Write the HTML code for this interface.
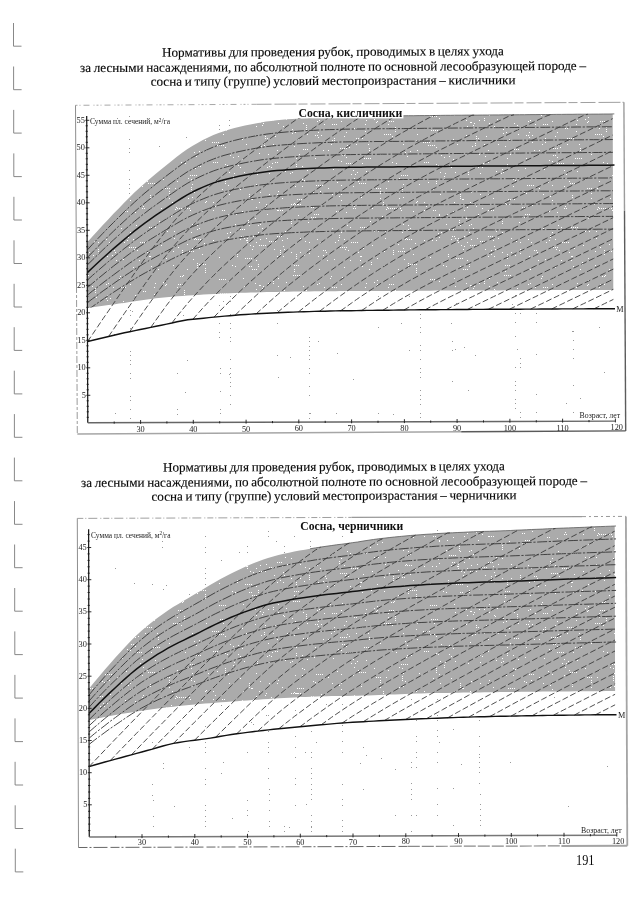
<!DOCTYPE html>
<html lang="ru">
<head>
<meta charset="utf-8">
<title>Нормативы для проведения рубок</title>
<style>
html,body{margin:0;padding:0;background:#fff;}
body{width:640px;height:905px;position:relative;overflow:hidden;font-family:"Liberation Serif",serif;color:#0a0a0a;}
.h{position:absolute;left:33px;width:600px;text-align:center;font-size:13.15px;line-height:14.6px;white-space:nowrap;word-spacing:-0.6px;-webkit-text-stroke:0.15px #0a0a0a;}
.pn{position:absolute;left:575.6px;top:852.3px;font-size:15px;line-height:16px;transform:scaleX(0.82);transform-origin:0 0;}
svg{position:absolute;left:0;top:0;}
</style>
</head>
<body>
<svg width="640" height="905" viewBox="0 0 640 905">
<defs>
<pattern id="speck" width="211" height="163" patternUnits="userSpaceOnUse">
<path d="M175 25h1v1h-1zM151 103h1v1h-1zM142 23h1v1h-1zM110 42h1v1h-1zM167 68h1v1h-1zM135 0h1v1h-1zM137 0h1v1h-1zM139 0h1v1h-1zM141 0h1v1h-1zM6 19h1v1h-1zM191 69h1v1h-1zM183 112h1v1h-1zM192 34h1v1h-1zM206 38h1v1h-1zM137 87h1v1h-1zM72 83h1v1h-1zM192 144h1v1h-1zM93 92h1v1h-1zM23 10h1v1h-1zM192 61h1v1h-1zM92 149h1v1h-1zM94 149h1v1h-1zM96 149h1v1h-1zM67 123h1v1h-1zM19 155h1v1h-1zM33 123h1v1h-1zM73 127h1v1h-1zM83 146h1v1h-1zM67 47h1v1h-1zM69 47h1v1h-1zM71 47h1v1h-1zM107 137h1v1h-1zM110 142h1v1h-1zM53 143h1v1h-1zM53 145h1v1h-1zM4 43h1v1h-1zM54 43h1v1h-1zM205 39h1v1h-1zM140 79h1v1h-1zM142 79h1v1h-1zM144 79h1v1h-1zM146 79h1v1h-1zM166 117h1v1h-1zM44 135h1v1h-1zM197 100h1v1h-1zM197 102h1v1h-1zM197 104h1v1h-1zM29 26h1v1h-1zM190 12h1v1h-1zM192 12h1v1h-1zM194 12h1v1h-1zM196 12h1v1h-1zM187 106h1v1h-1zM93 17h1v1h-1zM49 76h1v1h-1zM182 87h1v1h-1zM182 89h1v1h-1zM182 91h1v1h-1zM76 75h1v1h-1zM85 158h1v1h-1zM56 51h1v1h-1zM121 140h1v1h-1zM123 140h1v1h-1zM199 85h1v1h-1zM143 43h1v1h-1zM63 156h1v1h-1zM35 77h1v1h-1zM161 45h1v1h-1zM142 45h1v1h-1zM144 45h1v1h-1zM34 95h1v1h-1zM36 95h1v1h-1zM38 95h1v1h-1zM40 95h1v1h-1zM146 9h1v1h-1zM85 1h1v1h-1zM85 3h1v1h-1zM48 153h1v1h-1zM161 82h1v1h-1zM58 10h1v1h-1zM27 156h1v1h-1zM100 54h1v1h-1zM102 54h1v1h-1zM104 54h1v1h-1zM143 128h1v1h-1zM145 128h1v1h-1zM176 44h1v1h-1zM184 127h1v1h-1zM184 129h1v1h-1zM184 131h1v1h-1zM144 11h1v1h-1zM40 36h1v1h-1zM107 93h1v1h-1zM110 135h1v1h-1zM58 78h1v1h-1zM60 78h1v1h-1zM62 78h1v1h-1zM64 78h1v1h-1zM205 105h1v1h-1zM205 107h1v1h-1zM205 109h1v1h-1zM135 49h1v1h-1zM33 75h1v1h-1zM95 125h1v1h-1zM95 127h1v1h-1zM95 129h1v1h-1zM94 78h1v1h-1zM76 144h1v1h-1zM154 124h1v1h-1zM8 94h1v1h-1zM150 34h1v1h-1zM44 55h1v1h-1zM177 18h1v1h-1zM178 121h1v1h-1zM180 121h1v1h-1zM182 121h1v1h-1zM103 5h1v1h-1zM157 144h1v1h-1zM174 68h1v1h-1zM205 140h1v1h-1zM91 16h1v1h-1zM133 104h1v1h-1zM172 39h1v1h-1zM172 41h1v1h-1zM130 37h1v1h-1zM46 9h1v1h-1zM46 11h1v1h-1zM160 99h1v1h-1zM160 101h1v1h-1zM128 33h1v1h-1zM11 47h1v1h-1zM13 47h1v1h-1zM171 53h1v1h-1zM126 19h1v1h-1zM45 126h1v1h-1zM8 116h1v1h-1zM10 116h1v1h-1zM12 116h1v1h-1zM14 116h1v1h-1zM187 81h1v1h-1zM128 72h1v1h-1zM128 74h1v1h-1zM177 124h1v1h-1zM81 129h1v1h-1zM178 84h1v1h-1zM136 62h1v1h-1zM127 160h1v1h-1zM66 150h1v1h-1zM169 28h1v1h-1zM169 30h1v1h-1zM173 102h1v1h-1zM41 36h1v1h-1zM98 86h1v1h-1zM98 88h1v1h-1zM98 90h1v1h-1zM131 114h1v1h-1zM14 147h1v1h-1zM37 57h1v1h-1zM37 59h1v1h-1zM37 61h1v1h-1zM11 26h1v1h-1zM80 41h1v1h-1zM82 41h1v1h-1zM84 41h1v1h-1zM86 41h1v1h-1zM74 68h1v1h-1zM104 135h1v1h-1zM106 135h1v1h-1zM2 39h1v1h-1zM72 93h1v1h-1zM180 113h1v1h-1zM182 113h1v1h-1zM121 31h1v1h-1zM112 150h1v1h-1zM64 162h1v1h-1zM66 162h1v1h-1zM145 138h1v1h-1zM147 138h1v1h-1zM149 138h1v1h-1zM151 138h1v1h-1zM163 119h1v1h-1zM169 35h1v1h-1zM173 88h1v1h-1zM87 139h1v1h-1zM117 150h1v1h-1zM66 93h1v1h-1zM54 136h1v1h-1zM145 144h1v1h-1zM56 4h1v1h-1zM67 28h1v1h-1zM31 48h1v1h-1zM149 64h1v1h-1zM151 64h1v1h-1zM153 64h1v1h-1zM155 64h1v1h-1zM133 76h1v1h-1zM89 89h1v1h-1zM21 102h1v1h-1zM165 25h1v1h-1zM167 25h1v1h-1zM169 25h1v1h-1zM150 32h1v1h-1zM10 77h1v1h-1zM38 103h1v1h-1zM40 103h1v1h-1zM151 0h1v1h-1zM6 145h1v1h-1zM8 145h1v1h-1zM10 145h1v1h-1zM12 145h1v1h-1zM66 31h1v1h-1zM169 154h1v1h-1zM84 23h1v1h-1zM92 123h1v1h-1zM45 97h1v1h-1zM24 103h1v1h-1zM42 47h1v1h-1zM129 84h1v1h-1zM131 84h1v1h-1zM133 84h1v1h-1zM135 84h1v1h-1zM51 125h1v1h-1zM206 150h1v1h-1zM117 25h1v1h-1zM106 76h1v1h-1zM87 102h1v1h-1zM187 88h1v1h-1zM189 88h1v1h-1zM191 88h1v1h-1zM193 88h1v1h-1zM50 146h1v1h-1zM17 52h1v1h-1zM89 75h1v1h-1zM58 3h1v1h-1zM197 62h1v1h-1zM108 120h1v1h-1zM100 44h1v1h-1zM102 44h1v1h-1zM55 75h1v1h-1zM96 134h1v1h-1zM166 55h1v1h-1zM104 30h1v1h-1zM55 41h1v1h-1zM26 91h1v1h-1zM26 93h1v1h-1zM149 97h1v1h-1zM177 45h1v1h-1zM179 45h1v1h-1zM181 45h1v1h-1zM183 45h1v1h-1zM17 118h1v1h-1zM47 69h1v1h-1zM51 65h1v1h-1zM32 115h1v1h-1zM29 76h1v1h-1zM2 47h1v1h-1zM73 86h1v1h-1zM87 52h1v1h-1zM75 119h1v1h-1zM67 115h1v1h-1zM16 70h1v1h-1zM16 2h1v1h-1zM194 29h1v1h-1zM191 24h1v1h-1zM191 26h1v1h-1zM191 28h1v1h-1zM107 132h1v1h-1zM155 120h1v1h-1zM192 85h1v1h-1zM195 5h1v1h-1zM17 74h1v1h-1zM194 76h1v1h-1zM196 76h1v1h-1zM198 76h1v1h-1zM200 76h1v1h-1zM199 101h1v1h-1zM201 101h1v1h-1zM203 101h1v1h-1zM205 101h1v1h-1zM188 35h1v1h-1zM25 51h1v1h-1zM124 79h1v1h-1zM155 8h1v1h-1zM2 77h1v1h-1zM139 64h1v1h-1zM120 113h1v1h-1zM31 139h1v1h-1zM33 9h1v1h-1zM66 73h1v1h-1zM68 73h1v1h-1zM70 73h1v1h-1zM121 65h1v1h-1zM81 133h1v1h-1zM166 95h1v1h-1zM120 144h1v1h-1zM113 124h1v1h-1zM130 22h1v1h-1zM103 51h1v1h-1zM105 51h1v1h-1zM107 51h1v1h-1zM54 138h1v1h-1zM56 138h1v1h-1zM119 115h1v1h-1zM147 18h1v1h-1zM185 0h1v1h-1zM45 21h1v1h-1zM188 15h1v1h-1zM147 89h1v1h-1zM32 39h1v1h-1zM165 122h1v1h-1zM27 2h1v1h-1zM30 73h1v1h-1zM32 73h1v1h-1zM45 44h1v1h-1zM80 69h1v1h-1zM193 96h1v1h-1zM127 77h1v1h-1zM139 97h1v1h-1zM88 154h1v1h-1zM166 121h1v1h-1zM82 112h1v1h-1zM84 112h1v1h-1zM86 112h1v1h-1zM88 112h1v1h-1zM202 48h1v1h-1zM31 159h1v1h-1zM173 134h1v1h-1zM175 134h1v1h-1zM177 134h1v1h-1zM179 134h1v1h-1zM136 145h1v1h-1zM42 73h1v1h-1zM159 58h1v1h-1zM177 128h1v1h-1zM96 7h1v1h-1zM158 148h1v1h-1zM158 150h1v1h-1zM2 162h1v1h-1zM4 162h1v1h-1zM6 162h1v1h-1zM109 28h1v1h-1zM190 47h1v1h-1zM39 82h1v1h-1zM14 16h1v1h-1zM14 18h1v1h-1zM14 20h1v1h-1zM71 35h1v1h-1zM149 93h1v1h-1zM185 45h1v1h-1zM187 45h1v1h-1zM189 45h1v1h-1zM129 148h1v1h-1zM131 148h1v1h-1zM133 148h1v1h-1zM135 148h1v1h-1zM106 121h1v1h-1zM19 69h1v1h-1zM38 31h1v1h-1zM38 33h1v1h-1zM38 35h1v1h-1zM192 21h1v1h-1zM1 142h1v1h-1zM3 142h1v1h-1zM5 142h1v1h-1zM7 142h1v1h-1zM122 6h1v1h-1zM57 154h1v1h-1zM142 7h1v1h-1zM158 106h1v1h-1zM44 120h1v1h-1zM41 106h1v1h-1zM43 106h1v1h-1zM45 106h1v1h-1zM79 10h1v1h-1zM127 48h1v1h-1zM49 29h1v1h-1zM112 87h1v1h-1zM114 87h1v1h-1zM62 144h1v1h-1zM42 83h1v1h-1zM49 61h1v1h-1zM181 162h1v1h-1zM163 68h1v1h-1zM17 51h1v1h-1zM196 3h1v1h-1zM198 3h1v1h-1zM200 3h1v1h-1zM134 86h1v1h-1zM199 65h1v1h-1zM83 102h1v1h-1zM85 102h1v1h-1zM36 75h1v1h-1zM36 77h1v1h-1zM36 79h1v1h-1zM98 79h1v1h-1zM154 131h1v1h-1zM130 161h1v1h-1zM63 86h1v1h-1zM41 86h1v1h-1zM24 61h1v1h-1zM58 31h1v1h-1zM86 36h1v1h-1zM88 36h1v1h-1zM90 36h1v1h-1zM92 36h1v1h-1zM196 156h1v1h-1zM208 21h1v1h-1zM29 4h1v1h-1zM60 45h1v1h-1zM148 20h1v1h-1zM150 20h1v1h-1zM152 20h1v1h-1zM154 20h1v1h-1zM66 47h1v1h-1zM22 13h1v1h-1zM22 15h1v1h-1zM80 6h1v1h-1zM38 62h1v1h-1zM47 103h1v1h-1zM195 75h1v1h-1zM191 16h1v1h-1zM74 8h1v1h-1zM130 31h1v1h-1zM72 126h1v1h-1zM152 85h1v1h-1zM52 123h1v1h-1zM138 147h1v1h-1zM91 23h1v1h-1zM105 22h1v1h-1zM107 22h1v1h-1zM109 22h1v1h-1zM111 22h1v1h-1zM85 91h1v1h-1zM85 93h1v1h-1zM85 95h1v1h-1zM62 118h1v1h-1zM62 120h1v1h-1zM18 31h1v1h-1zM108 106h1v1h-1zM143 15h1v1h-1zM35 144h1v1h-1zM140 11h1v1h-1zM163 16h1v1h-1zM115 89h1v1h-1zM202 91h1v1h-1zM17 22h1v1h-1zM91 3h1v1h-1zM14 77h1v1h-1zM104 158h1v1h-1zM80 89h1v1h-1zM133 136h1v1h-1zM48 39h1v1h-1zM102 29h1v1h-1zM57 120h1v1h-1zM85 41h1v1h-1zM87 41h1v1h-1zM89 41h1v1h-1zM12 134h1v1h-1zM123 138h1v1h-1zM123 142h1v1h-1zM125 48h1v1h-1zM123 96h1v1h-1zM121 124h1v1h-1zM123 124h1v1h-1zM125 124h1v1h-1zM14 1h1v1h-1zM97 59h1v1h-1zM83 106h1v1h-1zM83 108h1v1h-1zM83 40h1v1h-1zM45 79h1v1h-1zM81 9h1v1h-1zM130 121h1v1h-1zM64 136h1v1h-1zM112 92h1v1h-1zM135 132h1v1h-1zM47 62h1v1h-1zM116 97h1v1h-1zM61 0h1v1h-1zM80 56h1v1h-1zM80 58h1v1h-1zM80 60h1v1h-1zM84 132h1v1h-1zM206 134h1v1h-1zM47 101h1v1h-1zM174 75h1v1h-1zM48 122h1v1h-1zM109 79h1v1h-1zM135 157h1v1h-1zM175 46h1v1h-1zM131 155h1v1h-1zM133 155h1v1h-1zM204 80h1v1h-1zM71 77h1v1h-1zM18 9h1v1h-1zM9 130h1v1h-1zM11 130h1v1h-1zM13 130h1v1h-1zM15 130h1v1h-1zM197 66h1v1h-1zM194 152h1v1h-1zM49 122h1v1h-1zM199 151h1v1h-1zM181 136h1v1h-1zM27 66h1v1h-1zM29 66h1v1h-1zM31 66h1v1h-1zM33 66h1v1h-1zM22 157h1v1h-1zM153 158h1v1h-1zM155 158h1v1h-1zM157 158h1v1h-1zM159 158h1v1h-1zM69 87h1v1h-1zM69 89h1v1h-1zM69 91h1v1h-1zM60 4h1v1h-1zM130 69h1v1h-1zM150 93h1v1h-1zM48 82h1v1h-1zM50 82h1v1h-1zM52 82h1v1h-1zM54 82h1v1h-1z" fill="#fff"/>
</pattern>
</defs>
<path d="M13.5 23V46.2H21.5M13.6 66.5V89.7H21.6M13.7 109.9V133.1H21.7M13.8 153.4V176.6H21.8M13.9 196.8V220H21.9M14 240.3V263.5H22M14.1 283.8V307H22.1M14.2 327.2V350.4H22.2M14.3 370.7V393.9H22.3M14.4 414.1V437.3H22.4M14.4 457.6V480.8H22.4M14.5 501.1V524.3H22.5M14.6 544.5V567.7H22.6M14.7 588V611.2H22.7M14.8 631.4V654.6H22.8M14.9 674.9V698.1H22.9M15 718.4V741.6H23M15.1 761.8V785H23.1M15.2 805.3V828.5H23.2M15.3 848.7V871.9H23.3" fill="none" stroke="#7a7a7a" stroke-width="0.9"/>
<path d="M130 418h1v1h-1zM130 409h1v1h-1zM130 400h1v1h-1zM130 396h1v1h-1zM130 378h1v1h-1zM130 373h1v1h-1zM130 364h1v1h-1zM130 360h1v1h-1zM130 355h1v1h-1zM130 351h1v1h-1zM130 328h1v1h-1zM130 315h1v1h-1zM130 310h1v1h-1zM129 193h1v1h-1zM129 188h1v1h-1zM129 184h1v1h-1zM129 179h1v1h-1zM129 170h1v1h-1zM129 152h1v1h-1zM129 148h1v1h-1zM129 139h1v1h-1zM129 116h1v1h-1zM145 328h1v1h-1zM177 414h1v1h-1zM177 409h1v1h-1zM177 373h1v1h-1zM220 413h1v1h-1zM220 409h1v1h-1zM220 391h1v1h-1zM220 373h1v1h-1zM220 368h1v1h-1zM219 337h1v1h-1zM219 332h1v1h-1zM219 323h1v1h-1zM219 305h1v1h-1zM219 129h1v1h-1zM219 125h1v1h-1zM230 404h1v1h-1zM230 395h1v1h-1zM230 386h1v1h-1zM230 382h1v1h-1zM230 377h1v1h-1zM230 373h1v1h-1zM230 368h1v1h-1zM230 359h1v1h-1zM230 341h1v1h-1zM230 337h1v1h-1zM230 328h1v1h-1zM230 323h1v1h-1zM230 314h1v1h-1zM230 301h1v1h-1zM230 296h1v1h-1zM229 125h1v1h-1zM229 120h1v1h-1zM278 377h1v1h-1zM277 355h1v1h-1zM277 323h1v1h-1zM277 310h1v1h-1zM309 418h1v1h-1zM309 413h1v1h-1zM309 395h1v1h-1zM309 386h1v1h-1zM309 373h1v1h-1zM309 368h1v1h-1zM309 359h1v1h-1zM309 355h1v1h-1zM309 350h1v1h-1zM309 346h1v1h-1zM309 341h1v1h-1zM309 337h1v1h-1zM378 413h1v1h-1zM378 327h1v1h-1zM378 296h1v1h-1zM409 350h1v1h-1zM409 296h1v1h-1zM420 417h1v1h-1zM420 413h1v1h-1zM420 404h1v1h-1zM420 399h1v1h-1zM420 395h1v1h-1zM420 390h1v1h-1zM420 377h1v1h-1zM420 372h1v1h-1zM420 368h1v1h-1zM420 359h1v1h-1zM420 350h1v1h-1zM420 345h1v1h-1zM420 332h1v1h-1zM420 327h1v1h-1zM420 318h1v1h-1zM420 314h1v1h-1zM420 309h1v1h-1zM420 300h1v1h-1zM452 381h1v1h-1zM452 350h1v1h-1zM452 341h1v1h-1zM451 323h1v1h-1zM468 390h1v1h-1zM515 408h1v1h-1zM515 403h1v1h-1zM515 399h1v1h-1zM515 390h1v1h-1zM515 385h1v1h-1zM515 381h1v1h-1zM515 367h1v1h-1zM515 336h1v1h-1zM515 322h1v1h-1zM515 313h1v1h-1zM515 309h1v1h-1zM515 295h1v1h-1zM520 417h1v1h-1zM520 412h1v1h-1zM520 367h1v1h-1zM520 363h1v1h-1zM520 358h1v1h-1zM520 313h1v1h-1zM536 412h1v1h-1zM536 394h1v1h-1zM536 354h1v1h-1zM536 322h1v1h-1zM536 313h1v1h-1zM573 412h1v1h-1zM573 385h1v1h-1zM573 358h1v1h-1zM573 349h1v1h-1zM573 340h1v1h-1zM573 331h1v1h-1zM599 327h1v1h-1zM337 353h1v1h-1zM159 146h1v1h-1zM229 374h1v1h-1zM187 360h1v1h-1zM517 349h1v1h-1zM186 137h1v1h-1zM132 311h1v1h-1zM604 372h1v1h-1zM393 414h1v1h-1zM336 413h1v1h-1zM183 315h1v1h-1zM456 303h1v1h-1zM475 355h1v1h-1zM575 307h1v1h-1zM318 341h1v1h-1zM223 301h1v1h-1zM580 398h1v1h-1zM566 403h1v1h-1zM512 304h1v1h-1zM455 349h1v1h-1zM185 392h1v1h-1zM114 334h1v1h-1zM310 413h1v1h-1zM117 118h1v1h-1zM290 357h1v1h-1zM572 331h1v1h-1zM464 347h1v1h-1zM401 323h1v1h-1zM115 413h1v1h-1zM353 379h1v1h-1z" fill="#9a9a9a"/>
<path d="M75.5 105.3L256.5 104.3" stroke="#a8a8a8" stroke-width="1" stroke-dasharray="2 2 1 3 6 4 1 2" fill="none"/>
<path d="M256.5 104.3L623.9 102.3" stroke="#a0a0a0" stroke-width="1" stroke-dasharray="15 3 22 2 9 3" fill="none"/>
<path d="M75.5 105.3L76.5 286" stroke="#8e8e8e" stroke-width="1" fill="none"/>
<path d="M76.5 286L77.3 433.9" stroke="#9a9a9a" stroke-width="1" stroke-dasharray="7 2 3 2" fill="none"/>
<path d="M623.9 102.3L624.5 210.7" stroke="#9c9c9c" stroke-width="1.4" fill="none"/>
<path d="M624.5 210.7L625.7 430.9" stroke="#5c5c5c" stroke-width="1.4" fill="none"/>
<path d="M77.3 433.9L461.2 431.8" stroke="#a6a6a6" stroke-width="1.5" fill="none"/>
<path d="M461.2 431.8L625.7 430.9" stroke="#5a5a5a" stroke-width="1.4" fill="none"/>
<clipPath id="band1"><path d="M87.1 242.6L92.4 236.6L97.7 230.8L102.9 225L108.2 219.4L113.4 213.8L118.7 208.4L123.9 203L129.2 197.7L134.4 192.6L139.7 187.7L145 183L150.2 178.4L155.5 174L160.7 169.7L166 165.5L171.3 161.3L176.5 157.1L181.8 153.1L187.1 149.3L192.3 145.9L197.6 142.9L202.8 140L208.1 137.4L213.4 135L218.6 133L223.9 131.2L229.2 129.6L234.5 128.1L239.7 126.8L245 125.6L250.3 124.5L255.5 123.4L260.8 122.5L266.1 121.6L271.4 120.9L276.6 120.3L281.9 119.8L287.2 119.3L292.5 118.9L297.7 118.5L303 118.2L308.3 117.9L313.6 117.6L318.8 117.3L324.1 117.1L329.4 116.9L334.7 116.8L339.9 116.6L345.2 116.5L350.5 116.4L355.8 116.3L361 116.2L366.3 116.2L371.6 116.1L376.9 116.1L382.1 116L387.4 116L392.7 115.9L398 115.9L403.2 115.8L408.5 115.7L413.8 115.7L419.1 115.6L424.4 115.6L429.6 115.5L434.9 115.5L440.2 115.4L445.5 115.3L450.7 115.3L456 115.2L461.3 115.2L466.6 115.1L471.8 115.1L477.1 115.1L482.4 115L487.7 115L492.9 114.9L498.2 114.9L503.5 114.8L508.8 114.8L514 114.8L519.3 114.7L524.6 114.7L529.9 114.6L535.1 114.6L540.4 114.5L545.7 114.5L551 114.5L556.2 114.4L561.5 114.4L566.8 114.3L572.1 114.3L577.4 114.2L582.6 114.2L587.9 114.2L593.2 114.1L598.5 114.1L603.7 114L609 114L612.7 113.9L613.3 289.9L609.6 289.9L604.4 290L599.1 290L593.8 290L588.5 290L583.3 290L578 290L572.7 290.1L567.4 290.1L562.2 290.1L556.9 290.1L551.6 290.1L546.3 290.2L541.1 290.2L535.8 290.2L530.5 290.2L525.2 290.2L520 290.3L514.7 290.3L509.4 290.3L504.1 290.3L498.9 290.4L493.6 290.4L488.3 290.4L483 290.4L477.7 290.4L472.5 290.5L467.2 290.5L461.9 290.5L456.6 290.5L451.4 290.6L446.1 290.6L440.8 290.6L435.5 290.6L430.3 290.7L425 290.7L419.7 290.7L414.4 290.7L409.2 290.8L403.9 290.8L398.6 290.8L393.3 290.9L388.1 290.9L382.8 290.9L377.5 290.9L372.2 291L367 291L361.7 291L356.4 291.1L351.1 291.1L345.8 291.1L340.6 291.1L335.3 291.2L330 291.2L324.7 291.2L319.5 291.3L314.2 291.3L308.9 291.4L303.6 291.5L298.4 291.5L293.1 291.6L287.8 291.7L282.5 291.8L277.3 291.9L272 292L266.7 292.1L261.4 292.2L256.2 292.4L250.9 292.5L245.6 292.7L240.3 292.8L235.1 293L229.8 293.2L224.5 293.4L219.2 293.7L214 294L208.7 294.3L203.4 294.6L198.1 294.9L192.9 295.2L187.6 295.6L182.3 295.9L177 296.3L171.8 296.8L166.5 297.2L161.2 297.7L155.9 298.3L150.7 298.9L145.4 299.7L140.1 300.5L134.8 301.3L129.6 302.1L124.3 302.9L119 303.6L113.7 304.4L108.5 305.1L103.2 305.8L97.9 306.5L92.7 307.2L87.4 307.9Z"/></clipPath>
<path d="M87.1 242.6L92.4 236.6L97.7 230.8L102.9 225L108.2 219.4L113.4 213.8L118.7 208.4L123.9 203L129.2 197.7L134.4 192.6L139.7 187.7L145 183L150.2 178.4L155.5 174L160.7 169.7L166 165.5L171.3 161.3L176.5 157.1L181.8 153.1L187.1 149.3L192.3 145.9L197.6 142.9L202.8 140L208.1 137.4L213.4 135L218.6 133L223.9 131.2L229.2 129.6L234.5 128.1L239.7 126.8L245 125.6L250.3 124.5L255.5 123.4L260.8 122.5L266.1 121.6L271.4 120.9L276.6 120.3L281.9 119.8L287.2 119.3L292.5 118.9L297.7 118.5L303 118.2L308.3 117.9L313.6 117.6L318.8 117.3L324.1 117.1L329.4 116.9L334.7 116.8L339.9 116.6L345.2 116.5L350.5 116.4L355.8 116.3L361 116.2L366.3 116.2L371.6 116.1L376.9 116.1L382.1 116L387.4 116L392.7 115.9L398 115.9L403.2 115.8L408.5 115.7L413.8 115.7L419.1 115.6L424.4 115.6L429.6 115.5L434.9 115.5L440.2 115.4L445.5 115.3L450.7 115.3L456 115.2L461.3 115.2L466.6 115.1L471.8 115.1L477.1 115.1L482.4 115L487.7 115L492.9 114.9L498.2 114.9L503.5 114.8L508.8 114.8L514 114.8L519.3 114.7L524.6 114.7L529.9 114.6L535.1 114.6L540.4 114.5L545.7 114.5L551 114.5L556.2 114.4L561.5 114.4L566.8 114.3L572.1 114.3L577.4 114.2L582.6 114.2L587.9 114.2L593.2 114.1L598.5 114.1L603.7 114L609 114L612.7 113.9L613.3 289.9L609.6 289.9L604.4 290L599.1 290L593.8 290L588.5 290L583.3 290L578 290L572.7 290.1L567.4 290.1L562.2 290.1L556.9 290.1L551.6 290.1L546.3 290.2L541.1 290.2L535.8 290.2L530.5 290.2L525.2 290.2L520 290.3L514.7 290.3L509.4 290.3L504.1 290.3L498.9 290.4L493.6 290.4L488.3 290.4L483 290.4L477.7 290.4L472.5 290.5L467.2 290.5L461.9 290.5L456.6 290.5L451.4 290.6L446.1 290.6L440.8 290.6L435.5 290.6L430.3 290.7L425 290.7L419.7 290.7L414.4 290.7L409.2 290.8L403.9 290.8L398.6 290.8L393.3 290.9L388.1 290.9L382.8 290.9L377.5 290.9L372.2 291L367 291L361.7 291L356.4 291.1L351.1 291.1L345.8 291.1L340.6 291.1L335.3 291.2L330 291.2L324.7 291.2L319.5 291.3L314.2 291.3L308.9 291.4L303.6 291.5L298.4 291.5L293.1 291.6L287.8 291.7L282.5 291.8L277.3 291.9L272 292L266.7 292.1L261.4 292.2L256.2 292.4L250.9 292.5L245.6 292.7L240.3 292.8L235.1 293L229.8 293.2L224.5 293.4L219.2 293.7L214 294L208.7 294.3L203.4 294.6L198.1 294.9L192.9 295.2L187.6 295.6L182.3 295.9L177 296.3L171.8 296.8L166.5 297.2L161.2 297.7L155.9 298.3L150.7 298.9L145.4 299.7L140.1 300.5L134.8 301.3L129.6 302.1L124.3 302.9L119 303.6L113.7 304.4L108.5 305.1L103.2 305.8L97.9 306.5L92.7 307.2L87.4 307.9Z" fill="#ababab"/>
<rect x="86.7" y="106.1" width="530.7" height="311" fill="url(#speck)" clip-path="url(#band1)"/>
<path d="M308.3 117.9L313.6 117.6L318.8 117.3L324.1 117.1L329.4 116.9L334.7 116.8L339.9 116.6L345.2 116.5L350.5 116.4L355.8 116.3L361 116.2L366.3 116.2L371.6 116.1L376.9 116.1L382.1 116L387.4 116L392.7 115.9L398 115.9L403.2 115.8L408.5 115.7L413.8 115.7L419.1 115.6L424.4 115.6L429.6 115.5L434.9 115.5L440.2 115.4L445.5 115.3L450.7 115.3L456 115.2L461.3 115.2L466.6 115.1L471.8 115.1L477.1 115.1L482.4 115L487.7 115L492.9 114.9L498.2 114.9L503.5 114.8L508.8 114.8L514 114.8L519.3 114.7L524.6 114.7L529.9 114.6L535.1 114.6L540.4 114.5L545.7 114.5L551 114.5L556.2 114.4L561.5 114.4L566.8 114.3L572.1 114.3L577.4 114.2L582.6 114.2L587.9 114.2L593.2 114.1L598.5 114.1L603.7 114L609 114L614.3 113.9" fill="none" stroke="#5a5a5a" stroke-width="0.8"/>
<path d="M87.4 310.2L92.7 306.4L97.9 302.8L103.2 299.2L108.4 295.6L113.7 292.2L119 288.7L124.2 285.4L129.5 282.1L134.8 278.9L140 275.8L145.3 272.8L150.6 270L155.8 267.2L161.1 264.5L166.4 261.9L171.6 259.2L176.9 256.6L182.2 254.1L187.4 251.7L192.7 249.6L198 247.7L203.2 245.9L208.5 244.3L213.8 242.8L219 241.5L224.3 240.4L229.6 239.4L234.9 238.5L240.1 237.6L245.4 236.9L250.7 236.2L256 235.5L261.2 234.9L266.5 234.3L271.8 233.9L277 233.5L282.3 233.2L287.6 232.9L292.9 232.6L298.1 232.4L303.4 232.2L308.7 231.9L314 231.8L319.3 231.6L324.5 231.5L329.8 231.3L335.1 231.2L340.4 231.1L345.6 231L350.9 231L356.2 230.9L361.5 230.9L366.7 230.8L372 230.8L377.3 230.7L382.6 230.7L387.8 230.7L393.1 230.6L398.4 230.6L403.7 230.5L408.9 230.5L414.2 230.5L419.5 230.4L424.8 230.4L430 230.3L435.3 230.3L440.6 230.2L445.9 230.2L451.1 230.2L456.4 230.1L461.7 230.1L467 230.1L472.3 230L477.5 230L482.8 230L488.1 229.9L493.4 229.9L498.6 229.9L503.9 229.8L509.2 229.8L514.5 229.8L519.7 229.7L525 229.7L530.3 229.7L535.6 229.6L540.8 229.6L546.1 229.6L551.4 229.5L556.7 229.5L561.9 229.5L567.2 229.4L572.5 229.4L577.8 229.4L583 229.3L588.3 229.3L593.6 229.3L598.9 229.2L604.2 229.2L609.4 229.2L614.7 229.1M87.4 302.7L92.6 298.7L97.9 294.8L103.1 290.9L108.4 287.2L113.7 283.5L118.9 279.8L124.2 276.2L129.5 272.7L134.7 269.3L140 266L145.3 262.8L150.5 259.8L155.8 256.8L161.1 254L166.3 251.2L171.6 248.4L176.8 245.6L182.1 242.9L187.4 240.3L192.6 238.1L197.9 236.1L203.2 234.2L208.5 232.4L213.7 230.8L219 229.4L224.3 228.2L229.5 227.2L234.8 226.2L240.1 225.3L245.4 224.5L250.6 223.8L255.9 223L261.2 222.4L266.5 221.8L271.7 221.3L277 220.9L282.3 220.6L287.6 220.3L292.8 220L298.1 219.7L303.4 219.5L308.7 219.3L313.9 219.1L319.2 218.9L324.5 218.8L329.8 218.6L335 218.5L340.3 218.4L345.6 218.3L350.9 218.2L356.1 218.2L361.4 218.1L366.7 218.1L372 218L377.2 218L382.5 218L387.8 217.9L393.1 217.9L398.3 217.8L403.6 217.8L408.9 217.8L414.2 217.7L419.4 217.7L424.7 217.6L430 217.6L435.3 217.5L440.5 217.5L445.8 217.4L451.1 217.4L456.4 217.4L461.7 217.3L466.9 217.3L472.2 217.3L477.5 217.2L482.8 217.2L488 217.2L493.3 217.1L498.6 217.1L503.9 217.1L509.1 217L514.4 217L519.7 216.9L525 216.9L530.2 216.9L535.5 216.8L540.8 216.8L546.1 216.8L551.3 216.7L556.6 216.7L561.9 216.7L567.2 216.6L572.4 216.6L577.7 216.6L583 216.5L588.3 216.5L593.6 216.5L598.8 216.4L604.1 216.4L609.4 216.4L614.7 216.3M87.3 295.2L92.6 290.9L97.9 286.8L103.1 282.7L108.4 278.7L113.6 274.8L118.9 270.9L124.2 267.1L129.4 263.3L134.7 259.7L140 256.2L145.2 252.9L150.5 249.6L155.7 246.5L161 243.4L166.3 240.5L171.5 237.5L176.8 234.5L182.1 231.6L187.3 229L192.6 226.6L197.9 224.4L203.1 222.4L208.4 220.5L213.7 218.8L219 217.4L224.2 216.1L229.5 215L234.8 213.9L240 213L245.3 212.1L250.6 211.3L255.9 210.6L261.1 209.9L266.4 209.3L271.7 208.8L277 208.4L282.2 208L287.5 207.6L292.8 207.3L298.1 207.1L303.3 206.8L308.6 206.6L313.9 206.4L319.2 206.2L324.4 206.1L329.7 205.9L335 205.8L340.3 205.7L345.5 205.6L350.8 205.5L356.1 205.4L361.4 205.4L366.6 205.3L371.9 205.3L377.2 205.2L382.5 205.2L387.7 205.2L393 205.1L398.3 205.1L403.6 205L408.8 205L414.1 205L419.4 204.9L424.7 204.9L430 204.8L435.2 204.8L440.5 204.7L445.8 204.7L451.1 204.6L456.3 204.6L461.6 204.6L466.9 204.5L472.2 204.5L477.4 204.4L482.7 204.4L488 204.4L493.3 204.3L498.5 204.3L503.8 204.3L509.1 204.2L514.4 204.2L519.6 204.2L524.9 204.1L530.2 204.1L535.5 204.1L540.7 204L546 204L551.3 204L556.6 203.9L561.8 203.9L567.1 203.8L572.4 203.8L577.7 203.8L583 203.7L588.2 203.7L593.5 203.7L598.8 203.6L604.1 203.6L609.3 203.6L614.6 203.5M87.3 287.7L92.6 283.2L97.8 278.8L103.1 274.5L108.3 270.2L113.6 266L118.9 261.9L124.1 257.9L129.4 253.9L134.7 250.1L139.9 246.4L145.2 242.9L150.4 239.4L155.7 236.1L161 232.9L166.2 229.7L171.5 226.6L176.8 223.4L182 220.4L187.3 217.6L192.6 215.1L197.8 212.8L203.1 210.6L208.4 208.6L213.6 206.9L218.9 205.3L224.2 204L229.5 202.8L234.7 201.7L240 200.7L245.3 199.8L250.5 198.9L255.8 198.1L261.1 197.4L266.4 196.8L271.6 196.2L276.9 195.8L282.2 195.4L287.5 195L292.7 194.7L298 194.4L303.3 194.2L308.6 193.9L313.8 193.7L319.1 193.5L324.4 193.3L329.7 193.2L334.9 193.1L340.2 192.9L345.5 192.8L350.8 192.8L356 192.7L361.3 192.6L366.6 192.6L371.9 192.6L377.1 192.5L382.4 192.5L387.7 192.4L393 192.4L398.2 192.3L403.5 192.3L408.8 192.3L414.1 192.2L419.4 192.2L424.6 192.1L429.9 192.1L435.2 192L440.5 192L445.7 191.9L451 191.9L456.3 191.8L461.6 191.8L466.8 191.8L472.1 191.7L477.4 191.7L482.7 191.6L487.9 191.6L493.2 191.6L498.5 191.5L503.8 191.5L509 191.5L514.3 191.4L519.6 191.4L524.9 191.4L530.1 191.3L535.4 191.3L540.7 191.2L546 191.2L551.3 191.2L556.5 191.1L561.8 191.1L567.1 191.1L572.4 191L577.6 191L582.9 190.9L588.2 190.9L593.5 190.9L598.7 190.8L604 190.8L609.3 190.8L614.6 190.7M87.3 280.2L92.5 275.4L97.8 270.8L103.1 266.2L108.3 261.7L113.6 257.3L118.8 253L124.1 248.7L129.4 244.6L134.6 240.5L139.9 236.6L145.1 232.9L150.4 229.3L155.7 225.8L160.9 222.4L166.2 219L171.5 215.7L176.7 212.4L182 209.2L187.3 206.2L192.5 203.5L197.8 201.1L203.1 198.9L208.3 196.8L213.6 194.9L218.9 193.3L224.1 191.8L229.4 190.6L234.7 189.4L240 188.4L245.2 187.4L250.5 186.5L255.8 185.7L261 184.9L266.3 184.3L271.6 183.7L276.9 183.2L282.1 182.8L287.4 182.4L292.7 182.1L298 181.8L303.2 181.5L308.5 181.2L313.8 181L319.1 180.8L324.3 180.6L329.6 180.5L334.9 180.3L340.2 180.2L345.4 180.1L350.7 180L356 180L361.3 179.9L366.5 179.9L371.8 179.8L377.1 179.8L382.4 179.7L387.7 179.7L392.9 179.6L398.2 179.6L403.5 179.5L408.8 179.5L414 179.5L419.3 179.4L424.6 179.3L429.9 179.3L435.1 179.2L440.4 179.2L445.7 179.2L451 179.1L456.2 179.1L461.5 179L466.8 179L472.1 178.9L477.3 178.9L482.6 178.9L487.9 178.8L493.2 178.8L498.4 178.8L503.7 178.7L509 178.7L514.3 178.6L519.5 178.6L524.8 178.6L530.1 178.5L535.4 178.5L540.7 178.5L545.9 178.4L551.2 178.4L556.5 178.3L561.8 178.3L567 178.3L572.3 178.2L577.6 178.2L582.9 178.2L588.1 178.1L593.4 178.1L598.7 178L604 178L609.2 178L614.5 177.9M87.2 265.1L92.5 259.9L97.7 254.8L103 249.7L108.3 244.8L113.5 239.9L118.8 235.2L124 230.4L129.3 225.8L134.6 221.3L139.8 217L145.1 212.9L150.3 208.9L155.6 205.1L160.9 201.3L166.1 197.6L171.4 193.9L176.6 190.3L181.9 186.7L187.2 183.4L192.4 180.5L197.7 177.8L203 175.3L208.2 173L213.5 170.9L218.8 169.1L224 167.6L229.3 166.2L234.6 164.9L239.9 163.8L245.1 162.7L250.4 161.7L255.7 160.8L261 159.9L266.2 159.2L271.5 158.6L276.8 158.1L282 157.6L287.3 157.2L292.6 156.8L297.9 156.5L303.1 156.2L308.4 155.9L313.7 155.6L319 155.4L324.2 155.2L329.5 155.1L334.8 154.9L340.1 154.8L345.4 154.7L350.6 154.6L355.9 154.5L361.2 154.4L366.5 154.4L371.7 154.3L377 154.3L382.3 154.2L387.6 154.2L392.8 154.1L398.1 154.1L403.4 154.1L408.7 154L413.9 153.9L419.2 153.9L424.5 153.8L429.8 153.8L435 153.7L440.3 153.7L445.6 153.6L450.9 153.6L456.1 153.5L461.4 153.5L466.7 153.4L472 153.4L477.2 153.4L482.5 153.3L487.8 153.3L493.1 153.3L498.4 153.2L503.6 153.2L508.9 153.1L514.2 153.1L519.5 153.1L524.7 153L530 153L535.3 152.9L540.6 152.9L545.8 152.9L551.1 152.8L556.4 152.8L561.7 152.7L566.9 152.7L572.2 152.7L577.5 152.6L582.8 152.6L588 152.5L593.3 152.5L598.6 152.5L603.9 152.4L609.1 152.4L614.4 152.3M87.2 257.6L92.5 252.2L97.7 246.8L103 241.5L108.2 236.3L113.5 231.2L118.7 226.2L124 221.3L129.3 216.4L134.5 211.8L139.8 207.2L145 202.9L150.3 198.7L155.6 194.7L160.8 190.7L166.1 186.9L171.3 183L176.6 179.2L181.9 175.5L187.1 172L192.4 169L197.7 166.2L202.9 163.5L208.2 161.1L213.5 159L218.7 157.1L224 155.4L229.3 154L234.5 152.6L239.8 151.4L245.1 150.3L250.4 149.3L255.6 148.3L260.9 147.5L266.2 146.7L271.5 146L276.7 145.5L282 145L287.3 144.6L292.6 144.2L297.8 143.8L303.1 143.5L308.4 143.2L313.7 143L318.9 142.7L324.2 142.5L329.5 142.4L334.8 142.2L340 142L345.3 141.9L350.6 141.8L355.9 141.8L361.1 141.7L366.4 141.6L371.7 141.6L377 141.5L382.2 141.5L387.5 141.4L392.8 141.4L398.1 141.4L403.3 141.3L408.6 141.2L413.9 141.2L419.2 141.1L424.4 141.1L429.7 141L435 141L440.3 140.9L445.5 140.9L450.8 140.8L456.1 140.8L461.4 140.7L466.7 140.7L471.9 140.6L477.2 140.6L482.5 140.6L487.8 140.5L493 140.5L498.3 140.4L503.6 140.4L508.9 140.4L514.1 140.3L519.4 140.3L524.7 140.2L530 140.2L535.2 140.2L540.5 140.1L545.8 140.1L551.1 140L556.3 140L561.6 139.9L566.9 139.9L572.2 139.9L577.4 139.8L582.7 139.8L588 139.7L593.3 139.7L598.5 139.7L603.8 139.6L609.1 139.6L614.4 139.5M87.2 250.1L92.4 244.4L97.7 238.8L102.9 233.3L108.2 227.8L113.5 222.5L118.7 217.3L124 212.1L129.2 207.1L134.5 202.2L139.7 197.5L145 192.9L150.3 188.6L155.5 184.3L160.8 180.2L166 176.2L171.3 172.2L176.6 168.2L181.8 164.3L187.1 160.7L192.4 157.4L197.6 154.5L202.9 151.8L208.2 149.3L213.4 147L218.7 145L224 143.3L229.2 141.8L234.5 140.4L239.8 139.1L245 138L250.3 136.9L255.6 135.9L260.9 135L266.1 134.2L271.4 133.5L276.7 132.9L282 132.4L287.2 131.9L292.5 131.5L297.8 131.2L303.1 130.8L308.3 130.5L313.6 130.3L318.9 130L324.2 129.8L329.4 129.6L334.7 129.5L340 129.3L345.3 129.2L350.5 129.1L355.8 129L361.1 129L366.4 128.9L371.6 128.8L376.9 128.8L382.2 128.7L387.5 128.7L392.7 128.7L398 128.6L403.3 128.6L408.6 128.5L413.8 128.4L419.1 128.4L424.4 128.3L429.7 128.3L434.9 128.2L440.2 128.2L445.5 128.1L450.8 128.1L456.1 128L461.3 128L466.6 127.9L471.9 127.9L477.2 127.8L482.4 127.8L487.7 127.7L493 127.7L498.3 127.7L503.5 127.6L508.8 127.6L514.1 127.5L519.4 127.5L524.6 127.5L529.9 127.4L535.2 127.4L540.5 127.3L545.7 127.3L551 127.2L556.3 127.2L561.6 127.2L566.8 127.1L572.1 127.1L577.4 127L582.7 127L588 126.9L593.2 126.9L598.5 126.9L603.8 126.8L609.1 126.8L614.3 126.7" fill="none" stroke="#363636" stroke-width="0.9" stroke-dasharray="10 1.6 2.2 1.6" clip-path="url(#band1)"/>
<path d="M87.5 341.6L92.8 333.9L98 326.2L103.2 318.5L108.5 310.9L113.7 303.2L119 295.6L124.2 288L129.5 280.5L134.7 273L140 265.6L145.2 258.3L150.5 251.2L155.7 244.2L161 237.3L166.2 230.7L171.5 224.3L176.7 218.3L182 212.6L187.3 207.3L192.5 202.1L197.8 197.1L203 192.3L208.3 187.6L213.6 183L218.8 178.6L224.1 174.2L229.3 170L234.6 165.8L239.9 161.6L245.1 157.5L250.4 153.5L255.6 149.5L260.9 145.5L266.2 141.6L271.4 137.7L276.7 133.8L281.9 129.9L287.2 126.1L292.5 122.3L297.7 118.5L300.4 118.3M108.6 336.5L113.8 328.8L119.1 321.1L124.3 313.5L129.6 305.9L134.8 298.4L140.1 290.9L145.3 283.5L150.6 276.2L155.8 269.1L161.1 262.1L166.3 255.3L171.6 248.7L176.8 242.5L182.1 236.6L187.3 231L192.6 225.6L197.9 220.5L203.1 215.4L208.4 210.5L213.6 205.8L218.9 201.2L224.2 196.7L229.4 192.2L234.7 187.9L239.9 183.6L245.2 179.4L250.5 175.2L255.7 171.1L261 167L266.2 162.9L271.5 158.9L276.8 155L282 151L287.3 147.1L292.5 143.3L297.8 139.4L303.1 135.6L308.3 131.9L313.6 128.1L318.9 124.4L324.1 120.7L329.4 117L332 116.8M129.7 331.7L134.9 324.1L140.2 316.5L145.4 309L150.7 301.6L155.9 294.3L161.2 287.2L166.4 280.2L171.7 273.4L176.9 267L182.2 260.9L187.4 255.1L192.7 249.5L197.9 244.1L203.2 238.9L208.5 233.8L213.7 228.9L219 224.1L224.2 219.4L229.5 214.8L234.8 210.3L240 205.9L245.3 201.5L250.5 197.2L255.8 193L261.1 188.8L266.3 184.6L271.6 180.5L276.8 176.4L282.1 172.4L287.4 168.4L292.6 164.5L297.9 160.6L303.2 156.8L308.4 153L313.7 149.2L318.9 145.4L324.2 141.7L329.5 138L334.7 134.3L340 130.7L345.3 127.1L350.5 123.5L355.8 120L361 116.5L363.7 116.2M150.8 327.4L156 320L161.3 312.6L166.5 305.4L171.8 298.5L177 291.9L182.3 285.6L187.5 279.6L192.8 273.7L198 268.1L203.3 262.7L208.5 257.4L213.8 252.3L219.1 247.3L224.3 242.5L229.6 237.7L234.8 233L240.1 228.5L245.4 224L250.6 219.6L255.9 215.2L261.1 210.9L266.4 206.6L271.7 202.4L276.9 198.2L282.2 194.1L287.4 190.1L292.7 186.1L298 182.1L303.2 178.2L308.5 174.4L313.8 170.6L319 166.8L324.3 163L329.5 159.3L334.8 155.6L340.1 151.9L345.3 148.3L350.6 144.7L355.9 141.2L361.1 137.7L366.4 134.2L371.6 130.8L376.9 127.4L382.2 124.1L387.4 120.9L392.7 117.7L398 115.9M171.9 323L177.1 316.2L182.4 309.7L187.6 303.4L192.9 297.4L198.1 291.6L203.4 286L208.6 280.5L213.9 275.2L219.1 270L224.4 265L229.7 260.1L234.9 255.3L240.2 250.6L245.4 245.9L250.7 241.4L256 236.9L261.2 232.5L266.5 228.1L271.7 223.8L277 219.5L282.3 215.3L287.5 211.2L292.8 207.1L298 203.1L303.3 199.2L308.6 195.3L313.8 191.4L319.1 187.6L324.4 183.8L329.6 180.1L334.9 176.4L340.1 172.7L345.4 169L350.7 165.4L355.9 161.9L361.2 158.3L366.5 154.9L371.7 151.4L377 148.1L382.2 144.8L387.5 141.5L392.8 138.3L398 135.2L403.3 132.1L408.6 129.1L413.8 126.1L419.1 123.2L424.4 120.3L429.6 117.5L434.9 115.5M192.9 319.2L198.2 313.2L203.5 307.3L208.7 301.7L214 296.2L219.2 290.9L224.5 285.7L229.7 280.7L235 275.7L240.3 270.9L245.5 266.1L250.8 261.5L256 256.9L261.3 252.3L266.5 247.8L271.8 243.4L277.1 239.1L282.3 234.8L287.6 230.6L292.9 226.5L298.1 222.5L303.4 218.5L308.6 214.5L313.9 210.6L319.2 206.8L324.4 203L329.7 199.2L334.9 195.4L340.2 191.7L345.5 188.1L350.7 184.5L356 180.9L361.3 177.3L366.5 173.8L371.8 170.4L377.1 167L382.3 163.7L387.6 160.5L392.8 157.3L398.1 154.1L403.4 151.1L408.6 148L413.9 145.1L419.2 142.2L424.4 139.3L429.7 136.5L435 133.8L440.2 131L445.5 128.4L450.8 125.7L456 123.1L461.3 120.5L466.6 117.9L471.8 115.3L474.5 115.1M214 317.1L219.3 311.6L224.6 306.3L229.8 301.1L235.1 296L240.3 291L245.6 286.1L250.8 281.3L256.1 276.6L261.4 272L266.6 267.4L271.9 262.9L277.1 258.5L282.4 254.1L287.7 249.8L292.9 245.7L298.2 241.6L303.4 237.6L308.7 233.6L314 229.7L319.2 225.8L324.5 221.9L329.8 218.1L335 214.4L340.3 210.6L345.5 207L350.8 203.3L356.1 199.7L361.3 196.2L366.6 192.7L371.9 189.2L377.1 185.8L382.4 182.5L387.6 179.3L392.9 176.1L398.2 172.9L403.4 169.9L408.7 166.8L414 163.9L419.2 161L424.5 158.1L429.8 155.3L435 152.5L440.3 149.8L445.6 147.2L450.8 144.5L456.1 141.9L461.4 139.3L466.6 136.7L471.9 134.1L477.2 131.6L482.4 129L487.7 126.4L493 123.9L498.2 121.3L503.5 118.8L508.8 116.2L514 114.8M235.1 315.2L240.4 310.1L245.7 305.2L250.9 300.3L256.2 295.4L261.4 290.7L266.7 286L271.9 281.4L277.2 276.9L282.5 272.5L287.7 268.2L293 263.9L298.2 259.8L303.5 255.7L308.8 251.7L314 247.8L319.3 243.8L324.6 240L329.8 236.1L335.1 232.4L340.3 228.6L345.6 224.9L350.9 221.2L356.1 217.6L361.4 214.1L366.7 210.6L371.9 207.1L377.2 203.7L382.5 200.4L387.7 197.1L393 193.9L398.2 190.8L403.5 187.7L408.8 184.7L414 181.7L419.3 178.8L424.6 176L429.8 173.2L435.1 170.4L440.4 167.7L445.6 165L450.9 162.4L456.2 159.8L461.4 157.2L466.7 154.6L472 152L477.2 149.4L482.5 146.9L487.8 144.3L493 141.7L498.3 139.2L503.6 136.6L508.8 134.1L514.1 131.6L519.4 129L524.6 126.5L529.9 123.9L535.2 121.4L540.4 118.8L545.7 116.3L551 114.5M256.2 313.8L261.5 309L266.8 304.2L272 299.5L277.3 294.9L282.5 290.4L287.8 286L293.1 281.7L298.3 277.6L303.6 273.5L308.8 269.4L314.1 265.4L319.4 261.5L324.6 257.6L329.9 253.7L335.1 249.9L340.4 246.2L345.7 242.4L350.9 238.8L356.2 235.1L361.5 231.5L366.7 228L372 224.6L377.3 221.2L382.5 217.9L387.8 214.6L393 211.4L398.3 208.2L403.6 205.2L408.8 202.1L414.1 199.2L419.4 196.3L424.6 193.4L429.9 190.6L435.2 187.9L440.4 185.1L445.7 182.5L451 179.8L456.2 177.2L461.5 174.6L466.8 172L472 169.4L477.3 166.9L482.6 164.3L487.8 161.7L493.1 159.2L498.4 156.6L503.6 154.1L508.9 151.5L514.2 149L519.4 146.4L524.7 143.9L530 141.4L535.2 138.8L540.5 136.3L545.8 133.7L551 131.2L556.3 128.6L561.6 126.1L566.8 123.5L572.1 121L577.4 118.4L582.6 115.9L587.9 114.2M277.3 312.7L282.6 308.1L287.9 303.7L293.1 299.4L298.4 295.1L303.6 291L308.9 286.9L314.2 282.9L319.4 278.9L324.7 275L329.9 271.1L335.2 267.3L340.5 263.5L345.7 259.8L351 256.1L356.3 252.4L361.5 248.8L366.8 245.3L372 241.8L377.3 238.4L382.6 235.1L387.8 231.8L393.1 228.6L398.4 225.5L403.6 222.4L408.9 219.4L414.2 216.4L419.4 213.5L424.7 210.7L430 207.9L435.2 205.1L440.5 202.4L445.8 199.7L451 197.1L456.3 194.5L461.6 191.9L466.8 189.3L472.1 186.7L477.4 184.1L482.6 181.6L487.9 179L493.2 176.4L498.4 173.9L503.7 171.3L509 168.8L514.2 166.2L519.5 163.7L524.8 161.1L530 158.6L535.3 156.1L540.6 153.5L545.8 151L551.1 148.4L556.4 145.9L561.6 143.3L566.9 140.8L572.2 138.2L577.4 135.7L582.7 133.1L588 130.6L593.2 128L598.5 125.5L603.8 122.9L609 120.4L612.7 118.6M298.4 311.9L303.7 307.7L309 303.6L314.2 299.5L319.5 295.5L324.7 291.6L330 287.7L335.3 283.8L340.5 280L345.8 276.3L351.1 272.5L356.3 268.9L361.6 265.3L366.8 261.8L372.1 258.3L377.4 254.9L382.6 251.5L387.9 248.3L393.2 245.1L398.4 241.9L403.7 238.8L409 235.8L414.2 232.8L419.5 229.9L424.8 227.1L430 224.3L435.3 221.5L440.6 218.8L445.8 216.1L451.1 213.5L456.4 210.9L461.6 208.3L466.9 205.7L472.2 203.1L477.4 200.5L482.7 198L488 195.4L493.2 192.9L498.5 190.3L503.8 187.8L509 185.2L514.3 182.7L519.6 180.1L524.8 177.6L530.1 175L535.4 172.5L540.6 169.9L545.9 167.4L551.2 164.8L556.4 162.3L561.7 159.7L567 157.2L572.2 154.7L577.5 152.1L582.8 149.6L588 147L593.3 144.5L598.6 141.9L603.8 139.4L609.1 136.8L612.8 135M319.5 311.3L324.8 307.3L330.1 303.4L335.3 299.5L340.6 295.7L345.9 291.9L351.1 288.2L356.4 284.5L361.6 280.9L366.9 277.4L372.2 273.9L377.4 270.5L382.7 267.1L388 263.9L393.2 260.7L398.5 257.5L403.8 254.4L409 251.4L414.3 248.4L419.5 245.5L424.8 242.7L430.1 239.9L435.3 237.1L440.6 234.4L445.9 231.7L451.1 229.1L456.4 226.5L461.7 223.9L466.9 221.3L472.2 218.7L477.5 216.1L482.7 213.6L488 211L493.3 208.5L498.5 205.9L503.8 203.4L509.1 200.8L514.3 198.3L519.6 195.7L524.9 193.2L530.1 190.6L535.4 188.1L540.7 185.5L545.9 183L551.2 180.4L556.5 177.9L561.7 175.3L567 172.8L572.3 170.3L577.5 167.7L582.8 165.2L588.1 162.6L593.3 160.1L598.6 157.5L603.9 155L609.1 152.4L612.8 150.6M340.6 310.8L345.9 307.1L351.2 303.3L356.4 299.6L361.7 296L367 292.5L372.2 289L377.5 285.5L382.7 282.2L388 278.9L393.3 275.7L398.5 272.6L403.8 269.5L409.1 266.5L414.3 263.5L419.6 260.6L424.9 257.7L430.1 254.9L435.4 252.2L440.7 249.5L445.9 246.8L451.2 244.2L456.5 241.5L461.7 238.9L467 236.4L472.3 233.8L477.5 231.2L482.8 228.6L488.1 226.1L493.3 223.5L498.6 221L503.9 218.4L509.1 215.9L514.4 213.3L519.7 210.8L524.9 208.2L530.2 205.7L535.5 203.1L540.7 200.6L546 198L551.3 195.5L556.5 192.9L561.8 190.4L567.1 187.9L572.3 185.3L577.6 182.8L582.9 180.2L588.1 177.7L593.4 175.1L598.7 172.6L603.9 170L609.2 167.5L612.9 165.7M361.7 310.5L367 306.9L372.3 303.5L377.5 300L382.8 296.7L388.1 293.4L393.3 290.2L398.6 287.1L403.9 284L409.1 280.9L414.4 278L419.7 275.1L424.9 272.2L430.2 269.4L435.5 266.7L440.7 263.9L446 261.3L451.3 258.6L456.5 256L461.8 253.4L467.1 250.8L472.3 248.2L477.6 245.7L482.9 243.1L488.1 240.5L493.4 238L498.7 235.4L503.9 232.9L509.2 230.3L514.5 227.8L519.7 225.3L525 222.7L530.3 220.2L535.5 217.6L540.8 215.1L546.1 212.5L551.3 210L556.6 207.4L561.9 204.9L567.1 202.3L572.4 199.8L577.7 197.2L582.9 194.7L588.2 192.1L593.5 189.6L598.7 187L604 184.5L609.3 182L612.9 180.2M382.9 310.2L388.1 307L393.4 303.7L398.6 300.6L403.9 297.5L409.2 294.5L414.4 291.5L419.7 288.6L425 285.8L430.2 283L435.5 280.2L440.8 277.5L446 274.8L451.3 272.2L456.6 269.6L461.8 267L467.1 264.4L472.4 261.8L477.6 259.2L482.9 256.7L488.2 254.1L493.4 251.5L498.7 249L504 246.4L509.2 243.9L514.5 241.3L519.8 238.8L525 236.2L530.3 233.7L535.6 231.2L540.8 228.6L546.1 226.1L551.4 223.5L556.6 221L561.9 218.4L567.2 215.9L572.4 213.3L577.7 210.8L583 208.2L588.2 205.7L593.5 203.1L598.8 200.6L604 198L609.3 195.5L613 193.7M404 310L409.2 307L414.5 304L419.7 301.1L425 298.2L430.3 295.4L435.5 292.7L440.8 290L446.1 287.3L451.3 284.6L456.6 282L461.9 279.4L467.1 276.8L472.4 274.3L477.7 271.7L482.9 269.1L488.2 266.6L493.5 264L498.7 261.5L504 258.9L509.3 256.4L514.5 253.8L519.8 251.3L525.1 248.7L530.3 246.2L535.6 243.6L540.9 241.1L546.1 238.5L551.4 236L556.7 233.4L561.9 230.9L567.2 228.3L572.5 225.8L577.7 223.2L583 220.7L588.3 218.2L593.5 215.6L598.8 213.1L604.1 210.5L609.3 208L613 206.2M425.1 309.8L430.3 307L435.6 304.2L440.9 301.5L446.1 298.8L451.4 296.2L456.7 293.6L461.9 291L467.2 288.4L472.5 285.8L477.7 283.2L483 280.7L488.3 278.1L493.5 275.5L498.8 273L504.1 270.4L509.3 267.9L514.6 265.3L519.9 262.8L525.1 260.2L530.4 257.7L535.7 255.2L540.9 252.6L546.2 250.1L551.5 247.5L556.7 245L562 242.4L567.3 239.9L572.5 237.3L577.8 234.8L583.1 232.2L588.3 229.7L593.6 227.1L598.9 224.6L604.1 222L609.4 219.5L613.1 217.7M446.2 309.6L451.4 307L456.7 304.3L462 301.7L467.2 299.1L472.5 296.6L477.8 294L483 291.4L488.3 288.9L493.6 286.3L498.8 283.8L504.1 281.2L509.4 278.7L514.6 276.1L519.9 273.6L525.2 271L530.4 268.5L535.7 265.9L541 263.4L546.2 260.8L551.5 258.3L556.8 255.7L562 253.2L567.3 250.6L572.6 248.1L577.8 245.6L583.1 243L588.4 240.5L593.6 237.9L598.9 235.4L604.2 232.8L609.4 230.3L613.1 228.5M467.3 309.5L472.5 306.9L477.8 304.3L483.1 301.7L488.3 299.2L493.6 296.6L498.9 294.1L504.1 291.5L509.4 289L514.7 286.4L519.9 283.9L525.2 281.3L530.5 278.8L535.7 276.2L541 273.7L546.3 271.1L551.5 268.6L556.8 266L562.1 263.5L567.3 261L572.6 258.4L577.9 255.9L583.1 253.3L588.4 250.8L593.7 248.2L598.9 245.7L604.2 243.1L609.5 240.6L613.2 238.8M488.4 309.3L493.6 306.8L498.9 304.2L504.2 301.7L509.4 299.1L514.7 296.6L520 294L525.2 291.5L530.5 288.9L535.8 286.4L541 283.8L546.3 281.3L551.6 278.8L556.8 276.2L562.1 273.7L567.4 271.1L572.6 268.6L577.9 266L583.2 263.5L588.4 260.9L593.7 258.4L599 255.8L604.2 253.3L609.5 250.7L613.2 249M509.5 309.2L514.7 306.7L520 304.1L525.3 301.6L530.5 299L535.8 296.5L541.1 293.9L546.3 291.4L551.6 288.8L556.9 286.3L562.1 283.7L567.4 281.2L572.7 278.6L577.9 276.1L583.2 273.6L588.5 271L593.7 268.5L599 265.9L604.3 263.4L609.5 260.8L613.2 259M530.6 309.1L535.8 306.5L541.1 304L546.4 301.5L551.6 298.9L556.9 296.4L562.2 293.8L567.4 291.3L572.7 288.7L578 286.2L583.2 283.6L588.5 281.1L593.8 278.5L599 276L604.3 273.4L609.6 270.9L613.3 269.1M551.7 309L556.9 306.4L562.2 303.9L567.5 301.3L572.7 298.8L578 296.3L583.3 293.7L588.5 291.2L593.8 288.6L599.1 286.1L604.3 283.5L609.6 281L613.3 279.2M572.8 308.9L578.1 306.3L583.3 303.8L588.6 301.3L593.9 298.7L599.1 296.2L604.4 293.6L609.7 291.1L613.3 289.3M593.9 308.8L599.2 306.3L604.4 303.7L609.7 301.2L613.4 299.4" fill="none" stroke="#3a3a3a" stroke-width="0.9" stroke-dasharray="6 2.6"/>
<path d="M87.3 272.6L92.5 267.7L97.8 262.8L103 258L108.3 253.3L113.5 248.6L118.8 244.1L124.1 239.6L129.3 235.2L134.6 230.9L139.8 226.8L145.1 222.9L150.4 219.1L155.6 215.4L160.9 211.8L166.2 208.3L171.4 204.8L176.7 201.3L182 198L187.2 194.8L192.5 192L197.7 189.5L203 187.1L208.3 184.9L213.6 182.9L218.8 181.2L224.1 179.7L229.4 178.4L234.6 177.2L239.9 176.1L245.2 175.1L250.5 174.1L255.7 173.2L261 172.4L266.3 171.7L271.5 171.1L276.8 170.6L282.1 170.2L287.4 169.8L292.6 169.4L297.9 169.1L303.2 168.8L308.5 168.6L313.7 168.3L319 168.1L324.3 167.9L329.6 167.8L334.8 167.6L340.1 167.5L345.4 167.4L350.7 167.3L355.9 167.2L361.2 167.2L366.5 167.1L371.8 167.1L377.1 167L382.3 167L387.6 166.9L392.9 166.9L398.2 166.8L403.4 166.8L408.7 166.7L414 166.7L419.3 166.6L424.5 166.6L429.8 166.5L435.1 166.5L440.4 166.4L445.6 166.4L450.9 166.3L456.2 166.3L461.5 166.3L466.7 166.2L472 166.2L477.3 166.1L482.6 166.1L487.8 166.1L493.1 166L498.4 166L503.7 165.9L509 165.9L514.2 165.9L519.5 165.8L524.8 165.8L530.1 165.8L535.3 165.7L540.6 165.7L545.9 165.6L551.2 165.6L556.4 165.6L561.7 165.5L567 165.5L572.3 165.4L577.5 165.4L582.8 165.4L588.1 165.3L593.4 165.3L598.6 165.2L603.9 165.2L609.2 165.2L614.5 165.1" fill="none" stroke="#111" stroke-width="1.5"/>
<path d="M87.5 341.6L92.8 340.3L98 339L103.3 337.7L108.6 336.5L113.9 335.2L119.1 334L124.4 332.8L129.7 331.7L134.9 330.6L140.2 329.5L145.5 328.5L150.8 327.4L156 326.3L161.3 325.2L166.6 324.1L171.9 323L177.1 321.8L182.4 320.7L187.7 319.8L192.9 319.2L198.2 318.7L203.5 318.2L208.8 317.6L214 317.1L219.3 316.6L224.6 316.1L229.9 315.7L235.1 315.2L240.4 314.8L245.7 314.5L251 314.1L256.2 313.8L261.5 313.5L266.8 313.2L272.1 313L277.3 312.7L282.6 312.5L287.9 312.2L293.2 312.1L298.4 311.9L303.7 311.7L309 311.6L314.3 311.4L319.5 311.3L324.8 311.2L330.1 311L335.4 310.9L340.6 310.8L345.9 310.7L351.2 310.7L356.5 310.6L361.7 310.5L367 310.4L372.3 310.4L377.6 310.3L382.9 310.2L388.1 310.2L393.4 310.1L398.7 310L404 310L409.2 309.9L414.5 309.9L419.8 309.8L425.1 309.8L430.3 309.7L435.6 309.7L440.9 309.6L446.2 309.6L451.4 309.6L456.7 309.5L462 309.5L467.3 309.5L472.5 309.4L477.8 309.4L483.1 309.4L488.4 309.3L493.6 309.3L498.9 309.3L504.2 309.2L509.5 309.2L514.7 309.2L520 309.2L525.3 309.1L530.6 309.1L535.9 309.1L541.1 309L546.4 309L551.7 309L557 309L562.2 308.9L567.5 308.9L572.8 308.9L578.1 308.9L583.3 308.9L588.6 308.8L593.9 308.8L599.2 308.8L604.4 308.8L609.7 308.8L615 308.7" fill="none" stroke="#111" stroke-width="1.4"/>
<path d="M86.7 115.9L87.8 422.8" fill="none" stroke="#1a1a1a" stroke-width="1.25"/>
<path d="M87.8 422.8L615.4 421.1" fill="none" stroke="#666" stroke-width="1.4"/>
<path d="M86.7 417.3H88.9M86.7 411.8H88.9M86.6 406.3H88.8M86.6 400.8H88.8M86.4 395.3H90.3M86.6 389.8H88.8M86.6 384.3H88.8M86.5 378.8H88.7M86.5 373.3H88.7M86.3 367.8H90.2M86.5 362.3H88.7M86.5 356.8H88.7M86.4 351.3H88.6M86.4 345.8H88.6M86.2 340.3H90.1M86.4 334.8H88.6M86.4 329.3H88.6M86.3 323.8H88.5M86.3 318.3H88.5M86.1 312.8H90M86.3 307.3H88.5M86.3 301.8H88.5M86.2 296.3H88.4M86.2 290.8H88.4M86 285.3H89.9M86.2 279.8H88.4M86.2 274.3H88.4M86.1 268.8H88.3M86.1 263.3H88.3M85.9 257.8H89.8M86.1 252.3H88.3M86.1 246.8H88.3M86 241.3H88.2M86 235.8H88.2M85.8 230.3H89.7M86 224.8H88.2M86 219.3H88.2M85.9 213.8H88.1M85.9 208.3H88.1M85.7 202.8H89.6M85.9 197.3H88.1M85.9 191.8H88.1M85.8 186.3H88M85.8 180.8H88M85.6 175.3H89.5M85.8 169.8H88M85.8 164.3H88M85.7 158.8H87.9M85.7 153.3H87.9M85.5 147.8H89.4M85.7 142.3H87.9M85.7 136.8H87.9M85.6 131.3H87.8M85.6 125.8H87.8M85.4 120.3H89.3M114.2 421.5V423.7M140.6 420V423.9M166.9 421.3V423.5M193.3 419.9V423.8M219.7 421.2V423.4M246.1 419.7V423.6M272.5 421V423.2M298.8 419.5V423.4M325.2 420.8V423M351.6 419.4V423.3M378 420.7V422.9M404.4 419.2V423.1M430.7 420.5V422.7M457.1 419V422.9M483.5 420.3V422.5M509.9 418.8V422.7M536.3 420.2V422.4M562.6 418.7V422.6M589 420V422.2M615.4 418.5V422.4" fill="none" stroke="#1a1a1a" stroke-width="0.9"/>
<g font-family="'Liberation Serif', serif" font-size="8.3" fill="#1c1c1c">
<text x="85.8" y="397.9" text-anchor="end">5</text>
<text x="85.7" y="370.4" text-anchor="end">10</text>
<text x="85.6" y="342.9" text-anchor="end">15</text>
<text x="85.5" y="315.4" text-anchor="end">20</text>
<text x="85.4" y="287.9" text-anchor="end">25</text>
<text x="85.3" y="260.4" text-anchor="end">30</text>
<text x="85.2" y="232.9" text-anchor="end">35</text>
<text x="85.1" y="205.4" text-anchor="end">40</text>
<text x="85" y="177.9" text-anchor="end">45</text>
<text x="84.9" y="150.4" text-anchor="end">50</text>
<text x="84.8" y="122.9" text-anchor="end">55</text>
<text x="140.6" y="431.9" text-anchor="middle">30</text>
<text x="193.3" y="431.8" text-anchor="middle">40</text>
<text x="246.1" y="431.6" text-anchor="middle">50</text>
<text x="298.8" y="431.4" text-anchor="middle">60</text>
<text x="351.6" y="431.3" text-anchor="middle">70</text>
<text x="404.4" y="431.1" text-anchor="middle">80</text>
<text x="457.1" y="430.9" text-anchor="middle">90</text>
<text x="509.9" y="430.7" text-anchor="middle">100</text>
<text x="562.6" y="430.6" text-anchor="middle">110</text>
<text x="623" y="430.4" text-anchor="end">120</text>
<text x="90" y="124.2" font-size="7.6" textLength="80" lengthAdjust="spacingAndGlyphs">Сумма пл. сечений, м<tspan font-size="5.4" dy="-2.4">2</tspan><tspan dy="2.4">/га</tspan></text>
<text x="579.5" y="417.9" font-size="7.6" textLength="40.6" lengthAdjust="spacingAndGlyphs">Возраст, лет</text>
<text x="616.3" y="311.8" font-size="8.2">М</text>
</g>
<rect x="293.4" y="106.9" width="110" height="11.5" fill="#fff"/>
<text x="298.4" y="116.9" font-family="'Liberation Serif', serif" font-weight="bold" font-size="12.6" fill="#111" textLength="104" lengthAdjust="spacingAndGlyphs">Сосна, кисличники</text>
<path d="M153 826h1v1h-1zM153 816h1v1h-1zM153 800h1v1h-1zM152 795h1v1h-1zM152 784h1v1h-1zM152 742h1v1h-1zM152 584h1v1h-1zM163 768h1v1h-1zM163 763h1v1h-1zM163 589h1v1h-1zM162 547h1v1h-1zM162 541h1v1h-1zM189 747h1v1h-1zM189 594h1v1h-1zM205 826h1v1h-1zM205 821h1v1h-1zM205 816h1v1h-1zM205 810h1v1h-1zM205 805h1v1h-1zM205 784h1v1h-1zM205 779h1v1h-1zM205 768h1v1h-1zM205 752h1v1h-1zM205 747h1v1h-1zM205 742h1v1h-1zM205 726h1v1h-1zM205 584h1v1h-1zM205 578h1v1h-1zM205 573h1v1h-1zM205 568h1v1h-1zM205 552h1v1h-1zM205 547h1v1h-1zM205 536h1v1h-1zM221 773h1v1h-1zM221 705h1v1h-1zM248 831h1v1h-1zM247 815h1v1h-1zM247 810h1v1h-1zM247 800h1v1h-1zM247 752h1v1h-1zM247 552h1v1h-1zM247 546h1v1h-1zM269 826h1v1h-1zM269 821h1v1h-1zM269 810h1v1h-1zM269 800h1v1h-1zM269 794h1v1h-1zM269 789h1v1h-1zM268 778h1v1h-1zM268 768h1v1h-1zM268 752h1v1h-1zM268 747h1v1h-1zM268 742h1v1h-1zM268 731h1v1h-1zM268 715h1v1h-1zM268 536h1v1h-1zM268 531h1v1h-1zM284 831h1v1h-1zM284 826h1v1h-1zM284 552h1v1h-1zM284 546h1v1h-1zM295 805h1v1h-1zM295 784h1v1h-1zM295 778h1v1h-1zM295 757h1v1h-1zM295 747h1v1h-1zM295 736h1v1h-1zM295 710h1v1h-1zM294 536h1v1h-1zM305 752h1v1h-1zM311 831h1v1h-1zM311 826h1v1h-1zM311 821h1v1h-1zM311 815h1v1h-1zM311 799h1v1h-1zM311 794h1v1h-1zM311 789h1v1h-1zM311 784h1v1h-1zM311 778h1v1h-1zM311 773h1v1h-1zM311 768h1v1h-1zM311 757h1v1h-1zM311 752h1v1h-1zM311 731h1v1h-1zM310 546h1v1h-1zM310 541h1v1h-1zM342 831h1v1h-1zM342 826h1v1h-1zM342 820h1v1h-1zM342 805h1v1h-1zM342 799h1v1h-1zM342 784h1v1h-1zM342 752h1v1h-1zM342 741h1v1h-1zM342 731h1v1h-1zM342 725h1v1h-1zM342 704h1v1h-1zM342 536h1v1h-1zM342 530h1v1h-1zM363 789h1v1h-1zM363 747h1v1h-1zM395 815h1v1h-1zM411 831h1v1h-1zM411 815h1v1h-1zM411 799h1v1h-1zM411 794h1v1h-1zM411 789h1v1h-1zM411 783h1v1h-1zM411 767h1v1h-1zM411 762h1v1h-1zM411 699h1v1h-1zM416 815h1v1h-1zM416 767h1v1h-1zM416 757h1v1h-1zM416 752h1v1h-1zM416 741h1v1h-1zM416 736h1v1h-1zM416 720h1v1h-1zM437 815h1v1h-1zM437 804h1v1h-1zM437 788h1v1h-1zM437 762h1v1h-1zM437 752h1v1h-1zM437 736h1v1h-1zM437 730h1v1h-1zM437 720h1v1h-1zM437 715h1v1h-1zM437 699h1v1h-1zM437 530h1v1h-1zM453 825h1v1h-1zM453 788h1v1h-1zM480 825h1v1h-1zM480 820h1v1h-1zM480 815h1v1h-1zM480 809h1v1h-1zM480 804h1v1h-1zM480 794h1v1h-1zM479 783h1v1h-1zM479 772h1v1h-1zM479 767h1v1h-1zM479 762h1v1h-1zM479 757h1v1h-1zM479 746h1v1h-1zM479 736h1v1h-1zM479 720h1v1h-1zM239 552h1v1h-1zM554 697h1v1h-1zM223 762h1v1h-1zM510 762h1v1h-1zM381 758h1v1h-1zM232 818h1v1h-1zM439 742h1v1h-1zM326 704h1v1h-1zM174 806h1v1h-1zM289 827h1v1h-1zM311 827h1v1h-1zM166 585h1v1h-1zM453 729h1v1h-1zM276 541h1v1h-1zM316 742h1v1h-1zM253 724h1v1h-1zM366 755h1v1h-1zM221 560h1v1h-1zM115 568h1v1h-1zM116 538h1v1h-1zM607 766h1v1h-1zM306 804h1v1h-1zM360 763h1v1h-1zM461 764h1v1h-1zM134 583h1v1h-1zM568 806h1v1h-1zM479 754h1v1h-1zM266 715h1v1h-1zM395 769h1v1h-1zM251 722h1v1h-1z" fill="#9a9a9a"/>
<path d="M77.3 518.4L351.6 517.4" stroke="#a0a0a0" stroke-width="1" stroke-dasharray="6 2 1 2 9 3 1 2" fill="none"/>
<path d="M351.6 517.4L582 516.6" stroke="#9a9a9a" stroke-width="1.1" fill="none"/>
<path d="M582 516.6L625.9 516.4" stroke="#9a9a9a" stroke-width="1" stroke-dasharray="4 3 2 3" fill="none"/>
<path d="M77.3 518.4L78.5 847.5" stroke="#8e8e8e" stroke-width="1" fill="none"/>
<path d="M625.9 516.4L627.3 845.7" stroke="#a4a4a4" stroke-width="1.8" fill="none"/>
<path d="M78.5 847.5L407.8 846.4" stroke="#666" stroke-width="1" stroke-dasharray="9 2 2 2 14 3" fill="none"/>
<path d="M407.8 846.4L561.4 845.9" stroke="#8a8a8a" stroke-width="1.2" stroke-dasharray="12 2" fill="none"/>
<path d="M561.4 845.9L627.3 845.7" stroke="#a4a4a4" stroke-width="2" fill="none"/>
<clipPath id="band2"><path d="M88.9 688.8L94.2 682.3L99.5 675.9L104.7 669.7L110 663.7L115.2 657.8L120.5 652L125.8 646.3L131 640.8L136.3 635.6L141.5 630.7L146.8 626.2L152.1 622L157.3 618L162.6 614.2L167.9 610.5L173.1 607.1L178.4 603.9L183.7 600.8L188.9 597.7L194.2 594.6L199.5 591.4L204.7 588.2L210 585.1L215.3 582L220.5 579.1L225.8 576.3L231.1 573.5L236.3 570.9L241.6 568.4L246.9 566L252.2 563.8L257.4 561.7L262.7 559.7L268 557.9L273.2 556.4L278.5 555L283.8 553.8L289 552.7L294.3 551.6L299.6 550.6L304.9 549.7L310.1 548.8L315.4 547.9L320.7 547.1L326 546.3L331.2 545.6L336.5 544.8L341.8 544.2L347 543.5L352.3 542.7L357.6 542L362.9 541.1L368.1 540.3L373.4 539.5L378.7 538.8L384 538.2L389.2 537.6L394.5 537L399.8 536.5L405 536L410.3 535.5L415.6 535.1L420.9 534.7L426.1 534.3L431.4 534L436.7 533.6L442 533.3L447.2 533L452.5 532.8L457.8 532.5L463.1 532.3L468.3 532L473.6 531.8L478.9 531.6L484.2 531.4L489.4 531.3L494.7 531.1L500 530.9L505.2 530.7L510.5 530.5L515.8 530.2L521.1 530L526.3 529.8L531.6 529.5L536.9 529.3L542.2 529.1L547.4 528.8L552.7 528.6L558 528.3L563.3 528.1L568.5 527.9L573.8 527.7L579.1 527.5L584.4 527.3L589.6 527L594.9 526.8L600.2 526.6L605.5 526.4L610.7 526.2L614.7 526.1L615.1 691.1L611.1 691.1L605.9 691.1L600.6 691.2L595.3 691.2L590 691.2L584.8 691.3L579.5 691.3L574.2 691.3L568.9 691.4L563.7 691.4L558.4 691.5L553.1 691.5L547.8 691.6L542.6 691.6L537.3 691.7L532 691.7L526.7 691.8L521.5 691.8L516.2 691.9L510.9 692L505.6 692L500.4 692.1L495.1 692.2L489.8 692.2L484.5 692.3L479.3 692.4L474 692.5L468.7 692.5L463.4 692.6L458.2 692.7L452.9 692.8L447.6 692.9L442.3 692.9L437.1 693L431.8 693.1L426.5 693.3L421.2 693.4L416 693.6L410.7 693.8L405.4 694L400.2 694.2L394.9 694.4L389.6 694.6L384.3 694.8L379.1 695L373.8 695.2L368.5 695.4L363.2 695.5L358 695.7L352.7 695.8L347.4 695.9L342.1 696L336.9 696.1L331.6 696.1L326.3 696.2L321 696.3L315.8 696.5L310.5 696.7L305.2 696.9L299.9 697.1L294.7 697.4L289.4 697.7L284.1 698L278.8 698.3L273.6 698.6L268.3 699L263 699.3L257.8 699.7L252.5 700.1L247.2 700.5L241.9 700.8L236.7 701.2L231.4 701.6L226.1 701.9L220.8 702.3L215.6 702.7L210.3 703.2L205 703.6L199.7 704.1L194.5 704.6L189.2 705.1L183.9 705.6L178.7 706.1L173.4 706.7L168.1 707.3L162.8 707.9L157.6 708.6L152.3 709.3L147 710L141.7 710.7L136.5 711.5L131.2 712.4L125.9 713.2L120.7 714.1L115.4 715.1L110.1 716L104.8 717L99.6 718.1L94.3 719.1L89 720.2Z"/></clipPath>
<path d="M88.9 688.8L94.2 682.3L99.5 675.9L104.7 669.7L110 663.7L115.2 657.8L120.5 652L125.8 646.3L131 640.8L136.3 635.6L141.5 630.7L146.8 626.2L152.1 622L157.3 618L162.6 614.2L167.9 610.5L173.1 607.1L178.4 603.9L183.7 600.8L188.9 597.7L194.2 594.6L199.5 591.4L204.7 588.2L210 585.1L215.3 582L220.5 579.1L225.8 576.3L231.1 573.5L236.3 570.9L241.6 568.4L246.9 566L252.2 563.8L257.4 561.7L262.7 559.7L268 557.9L273.2 556.4L278.5 555L283.8 553.8L289 552.7L294.3 551.6L299.6 550.6L304.9 549.7L310.1 548.8L315.4 547.9L320.7 547.1L326 546.3L331.2 545.6L336.5 544.8L341.8 544.2L347 543.5L352.3 542.7L357.6 542L362.9 541.1L368.1 540.3L373.4 539.5L378.7 538.8L384 538.2L389.2 537.6L394.5 537L399.8 536.5L405 536L410.3 535.5L415.6 535.1L420.9 534.7L426.1 534.3L431.4 534L436.7 533.6L442 533.3L447.2 533L452.5 532.8L457.8 532.5L463.1 532.3L468.3 532L473.6 531.8L478.9 531.6L484.2 531.4L489.4 531.3L494.7 531.1L500 530.9L505.2 530.7L510.5 530.5L515.8 530.2L521.1 530L526.3 529.8L531.6 529.5L536.9 529.3L542.2 529.1L547.4 528.8L552.7 528.6L558 528.3L563.3 528.1L568.5 527.9L573.8 527.7L579.1 527.5L584.4 527.3L589.6 527L594.9 526.8L600.2 526.6L605.5 526.4L610.7 526.2L614.7 526.1L615.1 691.1L611.1 691.1L605.9 691.1L600.6 691.2L595.3 691.2L590 691.2L584.8 691.3L579.5 691.3L574.2 691.3L568.9 691.4L563.7 691.4L558.4 691.5L553.1 691.5L547.8 691.6L542.6 691.6L537.3 691.7L532 691.7L526.7 691.8L521.5 691.8L516.2 691.9L510.9 692L505.6 692L500.4 692.1L495.1 692.2L489.8 692.2L484.5 692.3L479.3 692.4L474 692.5L468.7 692.5L463.4 692.6L458.2 692.7L452.9 692.8L447.6 692.9L442.3 692.9L437.1 693L431.8 693.1L426.5 693.3L421.2 693.4L416 693.6L410.7 693.8L405.4 694L400.2 694.2L394.9 694.4L389.6 694.6L384.3 694.8L379.1 695L373.8 695.2L368.5 695.4L363.2 695.5L358 695.7L352.7 695.8L347.4 695.9L342.1 696L336.9 696.1L331.6 696.1L326.3 696.2L321 696.3L315.8 696.5L310.5 696.7L305.2 696.9L299.9 697.1L294.7 697.4L289.4 697.7L284.1 698L278.8 698.3L273.6 698.6L268.3 699L263 699.3L257.8 699.7L252.5 700.1L247.2 700.5L241.9 700.8L236.7 701.2L231.4 701.6L226.1 701.9L220.8 702.3L215.6 702.7L210.3 703.2L205 703.6L199.7 704.1L194.5 704.6L189.2 705.1L183.9 705.6L178.7 706.1L173.4 706.7L168.1 707.3L162.8 707.9L157.6 708.6L152.3 709.3L147 710L141.7 710.7L136.5 711.5L131.2 712.4L125.9 713.2L120.7 714.1L115.4 715.1L110.1 716L104.8 717L99.6 718.1L94.3 719.1L89 720.2Z" fill="#ababab"/>
<rect x="88.5" y="517.4" width="530.2" height="313.8" fill="url(#speck)" clip-path="url(#band2)"/>
<path d="M310.1 548.8L315.4 547.9L320.7 547.1L326 546.3L331.2 545.6L336.5 544.8L341.8 544.2L347 543.5L352.3 542.7L357.6 542L362.9 541.1L368.1 540.3L373.4 539.5L378.7 538.8L384 538.2L389.2 537.6L394.5 537L399.8 536.5L405 536L410.3 535.5L415.6 535.1L420.9 534.7L426.1 534.3L431.4 534L436.7 533.6L442 533.3L447.2 533L452.5 532.8L457.8 532.5L463.1 532.3L468.3 532L473.6 531.8L478.9 531.6L484.2 531.4L489.4 531.3L494.7 531.1L500 530.9L505.2 530.7L510.5 530.5L515.8 530.2L521.1 530L526.3 529.8L531.6 529.5L536.9 529.3L542.2 529.1L547.4 528.8L552.7 528.6L558 528.3L563.3 528.1L568.5 527.9L573.8 527.7L579.1 527.5L584.4 527.3L589.6 527L594.9 526.8L600.2 526.6L605.5 526.4L610.7 526.2L616 526" fill="none" stroke="#5a5a5a" stroke-width="0.8"/>
<clipPath id="reg2"><path d="M88.9 688.8L94.2 682.3L99.5 675.9L104.7 669.7L110 663.7L115.2 657.8L120.5 652L125.8 646.3L131 640.8L136.3 635.6L141.5 630.7L146.8 626.2L152.1 622L157.3 618L162.6 614.2L167.9 610.5L173.1 607.1L178.4 603.9L183.7 600.8L188.9 597.7L194.2 594.6L199.5 591.4L204.7 588.2L210 585.1L215.3 582L220.5 579.1L225.8 576.3L231.1 573.5L236.3 570.9L241.6 568.4L246.9 566L252.2 563.8L257.4 561.7L262.7 559.7L268 557.9L273.2 556.4L278.5 555L283.8 553.8L289 552.7L294.3 551.6L299.6 550.6L304.9 549.7L310.1 548.8L315.4 547.9L320.7 547.1L326 546.3L331.2 545.6L336.5 544.8L341.8 544.2L347 543.5L352.3 542.7L357.6 542L362.9 541.1L368.1 540.3L373.4 539.5L378.7 538.8L384 538.2L389.2 537.6L394.5 537L399.8 536.5L405 536L410.3 535.5L415.6 535.1L420.9 534.7L426.1 534.3L431.4 534L436.7 533.6L442 533.3L447.2 533L452.5 532.8L457.8 532.5L463.1 532.3L468.3 532L473.6 531.8L478.9 531.6L484.2 531.4L489.4 531.3L494.7 531.1L500 530.9L505.2 530.7L510.5 530.5L515.8 530.2L521.1 530L526.3 529.8L531.6 529.5L536.9 529.3L542.2 529.1L547.4 528.8L552.7 528.6L558 528.3L563.3 528.1L568.5 527.9L573.8 527.7L579.1 527.5L584.4 527.3L589.6 527L594.9 526.8L600.2 526.6L605.5 526.4L610.7 526.2L616 526L616.5 714.7L611.2 714.7L605.9 714.8L600.6 714.8L595.4 714.8L590.1 714.9L584.8 714.9L579.5 715L574.3 715.1L569 715.1L563.7 715.2L558.4 715.3L553.2 715.4L547.9 715.4L542.6 715.5L537.3 715.6L532.1 715.7L526.8 715.8L521.5 715.9L516.2 716L511 716.1L505.7 716.2L500.4 716.3L495.1 716.4L489.9 716.5L484.6 716.7L479.3 716.8L474.1 716.9L468.8 717.1L463.5 717.2L458.2 717.4L453 717.6L447.7 717.8L442.4 718L437.1 718.2L431.9 718.4L426.6 718.6L421.3 718.8L416 719L410.8 719.2L405.5 719.5L400.2 719.7L394.9 720L389.7 720.2L384.4 720.5L379.1 720.8L373.8 721.1L368.6 721.4L363.3 721.7L358 722L352.7 722.3L347.5 722.6L342.2 723L336.9 723.4L331.7 723.9L326.4 724.4L321.1 724.8L315.8 725.3L310.6 725.7L305.3 726.2L300 726.7L294.7 727.2L289.5 727.7L284.2 728.2L278.9 728.7L273.6 729.3L268.4 729.9L263.1 730.5L257.8 731.1L252.6 731.7L247.3 732.4L242 733.1L236.7 733.8L231.5 734.5L226.2 735.4L220.9 736.3L215.6 737.2L210.4 738.1L205.1 738.9L199.8 739.6L194.6 740.2L189.3 740.9L184 741.6L178.7 742.5L173.5 743.4L168.2 744.6L162.9 746L157.7 747.5L152.4 749.1L147.1 750.5L141.8 752L136.6 753.4L131.3 754.9L126 756.3L120.8 757.7L115.5 759.1L110.2 760.6L104.9 762L99.7 763.5L94.4 765L89.1 766.6Z"/></clipPath>
<path d="M89.1 744.4L94.3 740.3L99.6 736.3L104.9 732.4L110.1 728.6L115.4 725L120.7 721.4L125.9 717.8L131.2 714.3L136.5 711L141.7 708L147 705.2L152.3 702.5L157.5 700L162.8 697.6L168.1 695.4L173.3 693.2L178.6 691.2L183.9 689.2L189.2 687.3L194.4 685.4L199.7 683.4L205 681.4L210.2 679.4L215.5 677.5L220.8 675.6L226 673.9L231.3 672.1L236.6 670.5L241.9 668.9L247.1 667.4L252.4 666.1L257.7 664.7L262.9 663.5L268.2 662.4L273.5 661.4L278.8 660.5L284 659.7L289.3 659L294.6 658.4L299.8 657.8L305.1 657.1L310.4 656.6L315.7 656L320.9 655.5L326.2 655L331.5 654.5L336.8 654.1L342 653.7L347.3 653.2L352.6 652.8L357.9 652.3L363.1 651.7L368.4 651.2L373.7 650.7L378.9 650.2L384.2 649.8L389.5 649.5L394.8 649.1L400 648.8L405.3 648.5L410.6 648.2L415.9 647.9L421.1 647.6L426.4 647.4L431.7 647.2L437 647L442.2 646.8L447.5 646.6L452.8 646.4L458.1 646.2L463.3 646.1L468.6 645.9L473.9 645.8L479.2 645.6L484.4 645.5L489.7 645.4L495 645.3L500.3 645.1L505.5 645L510.8 644.9L516.1 644.7L521.3 644.6L526.6 644.4L531.9 644.3L537.2 644.1L542.4 644L547.7 643.8L553 643.6L558.3 643.5L563.5 643.3L568.8 643.2L574.1 643.1L579.4 642.9L584.6 642.8L589.9 642.6L595.2 642.5L600.5 642.4L605.7 642.2L611 642.1L616.3 642M89.1 738.2L94.3 733.8L99.6 729.6L104.9 725.5L110.1 721.4L115.4 717.5L120.6 713.6L125.9 709.8L131.2 706.1L136.4 702.6L141.7 699.4L147 696.4L152.2 693.6L157.5 690.9L162.8 688.4L168.1 685.9L173.3 683.6L178.6 681.5L183.9 679.4L189.1 677.4L194.4 675.3L199.7 673.2L204.9 671L210.2 668.9L215.5 666.9L220.7 664.9L226 663L231.3 661.2L236.6 659.4L241.8 657.7L247.1 656.2L252.4 654.7L257.6 653.3L262.9 652L268.2 650.8L273.5 649.7L278.7 648.8L284 648L289.3 647.2L294.5 646.5L299.8 645.9L305.1 645.2L310.4 644.6L315.6 644L320.9 643.5L326.2 642.9L331.5 642.4L336.7 641.9L342 641.5L347.3 641L352.6 640.5L357.8 640L363.1 639.4L368.4 638.9L373.6 638.3L378.9 637.9L384.2 637.4L389.5 637L394.7 636.7L400 636.3L405.3 636L410.6 635.7L415.8 635.4L421.1 635.1L426.4 634.8L431.7 634.6L436.9 634.4L442.2 634.2L447.5 633.9L452.8 633.8L458 633.6L463.3 633.4L468.6 633.3L473.8 633.1L479.1 633L484.4 632.8L489.7 632.7L494.9 632.6L500.2 632.4L505.5 632.3L510.8 632.2L516 632L521.3 631.9L526.6 631.7L531.9 631.5L537.1 631.4L542.4 631.2L547.7 631L553 630.9L558.2 630.7L563.5 630.5L568.8 630.4L574.1 630.2L579.3 630.1L584.6 629.9L589.9 629.8L595.2 629.6L600.4 629.5L605.7 629.4L611 629.2L616.3 629.1M89 732L94.3 727.4L99.6 722.9L104.8 718.5L110.1 714.2L115.4 710L120.6 705.9L125.9 701.9L131.2 698L136.4 694.3L141.7 690.8L147 687.6L152.2 684.6L157.5 681.8L162.8 679.1L168 676.5L173.3 674.1L178.6 671.8L183.8 669.6L189.1 667.4L194.4 665.2L199.6 663L204.9 660.7L210.2 658.4L215.5 656.3L220.7 654.2L226 652.2L231.3 650.2L236.5 648.3L241.8 646.6L247.1 644.9L252.3 643.3L257.6 641.8L262.9 640.4L268.2 639.2L273.4 638L278.7 637.1L284 636.2L289.2 635.4L294.5 634.7L299.8 634L305.1 633.3L310.3 632.6L315.6 632L320.9 631.4L326.2 630.9L331.4 630.3L336.7 629.8L342 629.3L347.2 628.8L352.5 628.3L357.8 627.7L363.1 627.1L368.3 626.6L373.6 626L378.9 625.5L384.2 625L389.4 624.6L394.7 624.2L400 623.8L405.3 623.5L410.5 623.1L415.8 622.8L421.1 622.5L426.4 622.3L431.6 622L436.9 621.8L442.2 621.5L447.4 621.3L452.7 621.1L458 620.9L463.3 620.8L468.5 620.6L473.8 620.5L479.1 620.3L484.4 620.2L489.6 620L494.9 619.9L500.2 619.8L505.5 619.6L510.7 619.5L516 619.3L521.3 619.1L526.6 618.9L531.8 618.8L537.1 618.6L542.4 618.4L547.7 618.2L552.9 618.1L558.2 617.9L563.5 617.7L568.8 617.6L574 617.4L579.3 617.3L584.6 617.1L589.8 616.9L595.1 616.8L600.4 616.6L605.7 616.5L610.9 616.3L616.2 616.2M89 725.8L94.3 720.9L99.6 716.2L104.8 711.5L110.1 707L115.3 702.6L120.6 698.2L125.9 694L131.1 689.8L136.4 685.9L141.7 682.2L146.9 678.9L152.2 675.7L157.5 672.7L162.7 669.8L168 667.1L173.3 664.5L178.5 662.1L183.8 659.8L189.1 657.5L194.4 655.1L199.6 652.7L204.9 650.3L210.2 648L215.4 645.7L220.7 643.5L226 641.3L231.2 639.3L236.5 637.3L241.8 635.4L247 633.6L252.3 632L257.6 630.4L262.9 628.9L268.1 627.5L273.4 626.4L278.7 625.3L283.9 624.4L289.2 623.6L294.5 622.8L299.8 622L305 621.3L310.3 620.6L315.6 620L320.9 619.4L326.1 618.8L331.4 618.2L336.7 617.7L341.9 617.2L347.2 616.6L352.5 616.1L357.8 615.5L363 614.9L368.3 614.2L373.6 613.6L378.9 613.1L384.1 612.6L389.4 612.2L394.7 611.7L400 611.3L405.2 611L410.5 610.6L415.8 610.3L421 610L426.3 609.7L431.6 609.4L436.9 609.2L442.1 608.9L447.4 608.7L452.7 608.5L458 608.3L463.2 608.1L468.5 608L473.8 607.8L479.1 607.6L484.3 607.5L489.6 607.4L494.9 607.2L500.2 607.1L505.4 606.9L510.7 606.7L516 606.6L521.3 606.4L526.5 606.2L531.8 606L537.1 605.8L542.4 605.7L547.6 605.5L552.9 605.3L558.2 605.1L563.4 604.9L568.7 604.8L574 604.6L579.3 604.4L584.5 604.3L589.8 604.1L595.1 603.9L600.4 603.8L605.6 603.6L610.9 603.5L616.2 603.3M89 719.7L94.3 714.5L99.5 709.5L104.8 704.6L110.1 699.8L115.3 695.1L120.6 690.5L125.9 686L131.1 681.6L136.4 677.5L141.7 673.6L146.9 670.1L152.2 666.7L157.4 663.6L162.7 660.5L168 657.7L173.3 654.9L178.5 652.4L183.8 649.9L189.1 647.5L194.3 645L199.6 642.5L204.9 640L210.1 637.5L215.4 635L220.7 632.7L225.9 630.5L231.2 628.3L236.5 626.2L241.7 624.2L247 622.4L252.3 620.6L257.6 618.9L262.8 617.4L268.1 615.9L273.4 614.7L278.6 613.6L283.9 612.7L289.2 611.8L294.5 610.9L299.7 610.1L305 609.4L310.3 608.7L315.6 608L320.8 607.3L326.1 606.7L331.4 606.1L336.6 605.5L341.9 605L347.2 604.4L352.5 603.9L357.7 603.2L363 602.6L368.3 601.9L373.6 601.3L378.8 600.7L384.1 600.2L389.4 599.7L394.6 599.3L399.9 598.9L405.2 598.5L410.5 598.1L415.7 597.8L421 597.5L426.3 597.1L431.6 596.9L436.8 596.6L442.1 596.3L447.4 596.1L452.7 595.9L457.9 595.7L463.2 595.5L468.5 595.3L473.8 595.1L479 595L484.3 594.8L489.6 594.7L494.9 594.5L500.1 594.4L505.4 594.2L510.7 594L516 593.8L521.2 593.7L526.5 593.5L531.8 593.3L537 593.1L542.3 592.9L547.6 592.7L552.9 592.5L558.1 592.3L563.4 592.1L568.7 592L574 591.8L579.2 591.6L584.5 591.4L589.8 591.3L595.1 591.1L600.3 590.9L605.6 590.8L610.9 590.6L616.2 590.4M89 707.3L94.2 701.6L99.5 696L104.8 690.6L110 685.3L115.3 680.2L120.6 675.1L125.8 670.1L131.1 665.3L136.3 660.7L141.6 656.5L146.9 652.5L152.1 648.8L157.4 645.3L162.7 642L167.9 638.8L173.2 635.8L178.5 633L183.7 630.3L189 627.6L194.3 624.9L199.5 622.1L204.8 619.3L210.1 616.5L215.3 613.8L220.6 611.3L225.9 608.8L231.2 606.4L236.4 604.1L241.7 601.9L247 599.8L252.2 597.9L257.5 596.1L262.8 594.3L268 592.7L273.3 591.4L278.6 590.2L283.9 589.1L289.1 588.1L294.4 587.2L299.7 586.3L304.9 585.5L310.2 584.7L315.5 584L320.8 583.2L326 582.5L331.3 581.9L336.6 581.3L341.9 580.7L347.1 580L352.4 579.4L357.7 578.7L362.9 578L368.2 577.3L373.5 576.6L378.8 575.9L384 575.4L389.3 574.9L394.6 574.4L399.9 573.9L405.1 573.5L410.4 573.1L415.7 572.7L421 572.4L426.2 572L431.5 571.7L436.8 571.4L442.1 571.1L447.3 570.9L452.6 570.6L457.9 570.4L463.1 570.2L468.4 570L473.7 569.8L479 569.6L484.2 569.5L489.5 569.3L494.8 569.1L500.1 569L505.3 568.8L510.6 568.6L515.9 568.4L521.2 568.2L526.4 568L531.7 567.8L537 567.6L542.3 567.4L547.5 567.1L552.8 566.9L558.1 566.7L563.4 566.5L568.6 566.3L573.9 566.1L579.2 565.9L584.5 565.8L589.7 565.6L595 565.4L600.3 565.2L605.5 565L610.8 564.8L616.1 564.7M89 701.1L94.2 695.2L99.5 689.3L104.8 683.6L110 678.1L115.3 672.7L120.5 667.4L125.8 662.2L131.1 657.1L136.3 652.3L141.6 647.9L146.9 643.8L152.1 639.9L157.4 636.2L162.6 632.7L167.9 629.4L173.2 626.2L178.5 623.3L183.7 620.4L189 617.6L194.3 614.8L199.5 611.9L204.8 608.9L210.1 606L215.3 603.2L220.6 600.5L225.9 598L231.1 595.4L236.4 593L241.7 590.7L246.9 588.6L252.2 586.5L257.5 584.6L262.7 582.8L268 581.1L273.3 579.7L278.6 578.5L283.8 577.3L289.1 576.3L294.4 575.4L299.6 574.4L304.9 573.6L310.2 572.7L315.5 571.9L320.7 571.2L326 570.5L331.3 569.8L336.6 569.1L341.8 568.5L347.1 567.9L352.4 567.2L357.6 566.5L362.9 565.7L368.2 564.9L373.5 564.2L378.7 563.6L384 563L389.3 562.4L394.6 561.9L399.8 561.4L405.1 561L410.4 560.6L415.7 560.2L420.9 559.8L426.2 559.5L431.5 559.1L436.7 558.8L442 558.5L447.3 558.3L452.6 558L457.8 557.8L463.1 557.6L468.4 557.3L473.7 557.2L478.9 557L484.2 556.8L489.5 556.6L494.8 556.4L500 556.3L505.3 556.1L510.6 555.9L515.9 555.7L521.1 555.5L526.4 555.3L531.7 555L537 554.8L542.2 554.6L547.5 554.4L552.8 554.2L558 553.9L563.3 553.7L568.6 553.5L573.9 553.3L579.1 553.1L584.4 552.9L589.7 552.7L595 552.5L600.2 552.3L605.5 552.2L610.8 552L616.1 551.8M89 695L94.2 688.7L99.5 682.6L104.7 676.7L110 670.9L115.3 665.3L120.5 659.7L125.8 654.3L131 649L136.3 643.9L141.6 639.3L146.8 635L152.1 630.9L157.4 627.1L162.6 623.4L167.9 620L173.2 616.7L178.4 613.6L183.7 610.6L189 607.7L194.2 604.7L199.5 601.7L204.8 598.6L210 595.6L215.3 592.6L220.6 589.8L225.8 587.1L231.1 584.5L236.4 581.9L241.6 579.5L246.9 577.3L252.2 575.2L257.4 573.2L262.7 571.3L268 569.5L273.3 568L278.5 566.7L283.8 565.6L289.1 564.5L294.3 563.5L299.6 562.5L304.9 561.6L310.2 560.8L315.4 559.9L320.7 559.1L326 558.4L331.3 557.7L336.5 557L341.8 556.3L347.1 555.7L352.3 555L357.6 554.2L362.9 553.4L368.2 552.6L373.4 551.9L378.7 551.2L384 550.6L389.3 550L394.5 549.5L399.8 549L405.1 548.5L410.3 548.1L415.6 547.6L420.9 547.3L426.2 546.9L431.4 546.6L436.7 546.2L442 545.9L447.3 545.6L452.5 545.4L457.8 545.1L463.1 544.9L468.4 544.7L473.6 544.5L478.9 544.3L484.2 544.1L489.5 543.9L494.7 543.8L500 543.6L505.3 543.4L510.6 543.2L515.8 543L521.1 542.7L526.4 542.5L531.6 542.3L536.9 542.1L542.2 541.8L547.5 541.6L552.7 541.4L558 541.1L563.3 540.9L568.6 540.7L573.8 540.5L579.1 540.3L584.4 540.1L589.7 539.9L594.9 539.7L600.2 539.5L605.5 539.3L610.8 539.1L616 538.9" fill="none" stroke="#363636" stroke-width="0.9" stroke-dasharray="10 1.6 2.2 1.6" clip-path="url(#reg2)"/>
<path d="M89.1 766.6L94.4 761L99.7 755.5L104.9 750L110.2 744.5L115.4 739L120.7 733.6L126 728.1L131.2 722.7L136.5 717.3L141.7 711.9L147 706.5L152.3 701.1L157.5 695.7L162.8 690.4L168.1 685L173.3 679.7L178.6 674.4L183.8 669.1L189.1 663.8L194.4 658.5L199.6 653.3L204.9 648L210.1 642.8L215.4 637.6L220.7 632.4L225.9 627.2L231.2 622L236.5 616.9L241.7 611.8L247 606.7L252.2 601.7L257.5 596.8L262.8 591.9L268 587.2L273.3 582.6L278.6 578.1L283.8 573.8L289.1 569.6L294.4 565.6L299.6 561.6L304.9 557.7L310.1 553.9L315.4 550.1L320.7 547.1M110.2 760.6L115.5 755.1L120.7 749.6L126 744.2L131.3 738.8L136.5 733.3L141.8 728L147 722.6L152.3 717.2L157.6 711.8L162.8 706.5L168.1 701.1L173.4 695.8L178.6 690.5L183.9 685.2L189.1 679.9L194.4 674.6L199.7 669.3L204.9 664.1L210.2 658.9L215.4 653.7L220.7 648.5L226 643.3L231.2 638.1L236.5 633L241.8 627.9L247 622.8L252.3 617.8L257.5 612.8L262.8 608L268.1 603.3L273.3 598.6L278.6 594.2L283.9 589.9L289.1 585.7L294.4 581.7L299.7 577.7L304.9 573.8L310.2 569.9L315.5 566.1L320.7 562.4L326 558.6L331.2 554.9L336.5 551.2L341.8 547.6L347 544.1L349.7 543.1M131.3 754.9L136.6 749.5L141.8 744.1L147.1 738.7L152.3 733.3L157.6 727.9L162.9 722.6L168.1 717.2L173.4 711.9L178.7 706.6L183.9 701.3L189.2 696L194.4 690.7L199.7 685.5L205 680.2L210.2 675L215.5 669.8L220.7 664.6L226 659.4L231.3 654.2L236.5 649.1L241.8 644L247.1 638.9L252.3 633.9L257.6 629L262.8 624.1L268.1 619.4L273.4 614.8L278.6 610.3L283.9 606L289.2 601.8L294.4 597.8L299.7 593.8L305 589.9L310.2 586.1L315.5 582.3L320.8 578.5L326 574.7L331.3 571L336.6 567.4L341.8 563.8L347.1 560.3L352.3 556.8L357.6 553.5L362.9 550.2L368.1 546.9L373.4 543.7L378.7 540.5L384 538.2M152.4 749.1L157.6 743.7L162.9 738.3L168.2 733L173.4 727.7L178.7 722.3L184 717L189.2 711.7L194.5 706.5L199.7 701.2L205 696L210.3 690.8L215.5 685.5L220.8 680.3L226 675.2L231.3 670L236.6 664.9L241.8 659.8L247.1 654.7L252.4 649.7L257.6 644.7L262.9 639.9L268.1 635.1L273.4 630.5L278.7 626.1L283.9 621.7L289.2 617.6L294.5 613.5L299.7 609.6L305 605.7L310.3 601.8L315.5 598L320.8 594.2L326.1 590.5L331.3 586.8L336.6 583.1L341.9 579.5L347.1 576L352.4 572.6L357.7 569.2L362.9 565.9L368.2 562.7L373.5 559.4L378.7 556.2L384 553.1L389.3 550L394.5 546.9L399.8 543.9L405.1 540.9L410.3 537.9L415.6 535.1M173.5 743.4L178.7 738.1L184 732.8L189.3 727.5L194.5 722.2L199.8 717L205 711.7L210.3 706.5L215.6 701.3L220.8 696.1L226.1 690.9L231.3 685.8L236.6 680.6L241.9 675.5L247.1 670.5L252.4 665.4L257.7 660.5L262.9 655.7L268.2 650.9L273.4 646.3L278.7 641.8L284 637.5L289.2 633.4L294.5 629.3L299.8 625.3L305 621.4L310.3 617.6L315.6 613.8L320.8 610L326.1 606.3L331.4 602.6L336.6 598.9L341.9 595.3L347.2 591.8L352.4 588.4L357.7 585L363 581.7L368.2 578.4L373.5 575.2L378.8 572L384 568.9L389.3 565.7L394.6 562.7L399.8 559.6L405.1 556.7L410.4 553.7L415.6 550.7L420.9 547.8L426.2 544.8L431.4 541.9L436.7 538.9L442 536L447.2 533.1L449.9 532.9M194.6 740.2L199.8 734.9L205.1 729.7L210.3 724.5L215.6 719.3L220.9 714.1L226.1 708.9L231.4 703.7L236.7 698.6L241.9 693.5L247.2 688.4L252.4 683.4L257.7 678.5L263 673.6L268.2 668.9L273.5 664.2L278.8 659.8L284 655.5L289.3 651.3L294.5 647.3L299.8 643.3L305.1 639.4L310.3 635.5L315.6 631.7L320.9 628L326.1 624.2L331.4 620.5L336.7 616.8L341.9 613.2L347.2 609.7L352.5 606.3L357.7 603L363 599.7L368.3 596.4L373.5 593.2L378.8 590L384.1 586.8L389.3 583.7L394.6 580.6L399.9 577.6L405.1 574.6L410.4 571.6L415.7 568.7L420.9 565.7L426.2 562.8L431.5 559.8L436.7 556.9L442 553.9L447.3 551L452.5 548.1L457.8 545.2L463.1 542.3L468.3 539.4L473.6 536.5L478.9 533.6L484.2 531.4M215.6 737.2L220.9 732L226.2 726.8L231.4 721.7L236.7 716.5L242 711.4L247.2 706.3L252.5 701.3L257.7 696.4L263 691.5L268.3 686.8L273.5 682.2L278.8 677.7L284.1 673.4L289.3 669.2L294.6 665.2L299.9 661.2L305.1 657.3L310.4 653.5L315.7 649.7L320.9 645.9L326.2 642.1L331.4 638.4L336.7 634.8L342 631.2L347.2 627.7L352.5 624.2L357.8 620.9L363 617.6L368.3 614.3L373.6 611.1L378.8 607.9L384.1 604.7L389.4 601.6L394.6 598.5L399.9 595.5L405.2 592.5L410.4 589.6L415.7 586.6L421 583.6L426.3 580.7L431.5 577.7L436.8 574.8L442.1 571.9L447.3 568.9L452.6 566L457.9 563.1L463.1 560.2L468.4 557.3L473.7 554.4L478.9 551.5L484.2 548.6L489.5 545.7L494.7 542.9L500 540L505.3 537.1L510.5 534.3L515.8 531.4L518.4 530.1M236.7 733.8L242 728.7L247.3 723.6L252.5 718.6L257.8 713.6L263 708.8L268.3 704L273.6 699.4L278.8 695L284.1 690.6L289.4 686.5L294.6 682.4L299.9 678.5L305.2 674.6L310.4 670.7L315.7 666.9L321 663.1L326.2 659.4L331.5 655.7L336.8 652L342 648.4L347.3 644.9L352.6 641.5L357.8 638.1L363.1 634.8L368.4 631.6L373.6 628.3L378.9 625.1L384.2 622L389.4 618.9L394.7 615.8L400 612.8L405.2 609.8L410.5 606.8L415.8 603.8L421 600.9L426.3 597.9L431.6 595L436.8 592.1L442.1 589.1L447.4 586.2L452.6 583.3L457.9 580.4L463.2 577.5L468.4 574.5L473.7 571.6L479 568.8L484.2 565.9L489.5 563L494.8 560.1L500 557.2L505.3 554.4L510.6 551.5L515.8 548.7L521.1 545.8L526.4 543L531.6 540.2L536.9 537.4L542.2 534.6L547.4 531.9L552.7 529.1L555.4 528.5M257.8 731.1L263.1 726.2L268.4 721.5L273.6 716.9L278.9 712.4L284.1 708.1L289.4 704L294.7 699.9L299.9 695.9L305.2 692L310.5 688.2L315.7 684.4L321 680.6L326.3 676.9L331.5 673.1L336.8 669.5L342.1 665.9L347.3 662.4L352.6 659L357.9 655.6L363.1 652.3L368.4 649L373.7 645.8L378.9 642.6L384.2 639.4L389.5 636.3L394.7 633.3L400 630.2L405.3 627.2L410.5 624.3L415.8 621.3L421.1 618.4L426.3 615.4L431.6 612.5L436.9 609.5L442.1 606.6L447.4 603.7L452.7 600.7L457.9 597.8L463.2 594.9L468.5 592L473.7 589.1L479 586.2L484.3 583.3L489.5 580.4L494.8 577.6L500.1 574.7L505.3 571.8L510.6 569L515.9 566.1L521.2 563.3L526.4 560.5L531.7 557.7L537 554.9L542.2 552.1L547.5 549.3L552.8 546.6L558 543.8L563.3 541.1L568.6 538.4L573.8 535.7L579.1 533L584.4 530.3L589.6 527.6L592.3 526.9M278.9 728.7L284.2 724.4L289.5 720.3L294.7 716.2L300 712.3L305.2 708.4L310.5 704.5L315.8 700.7L321 696.9L326.3 693.2L331.6 689.5L336.8 685.8L342.1 682.2L347.4 678.7L352.6 675.3L357.9 671.9L363.2 668.6L368.4 665.4L373.7 662.1L379 658.9L384.2 655.8L389.5 652.7L394.8 649.6L400 646.6L405.3 643.6L410.6 640.6L415.8 637.6L421.1 634.7L426.4 631.7L431.6 628.8L436.9 625.8L442.2 622.9L447.4 620L452.7 617.1L458 614.1L463.2 611.2L468.5 608.3L473.8 605.4L479 602.5L484.3 599.6L489.6 596.8L494.9 593.9L500.1 591L505.4 588.2L510.7 585.3L515.9 582.5L521.2 579.6L526.5 576.8L531.7 574L537 571.2L542.3 568.4L547.5 565.6L552.8 562.9L558.1 560.2L563.3 557.4L568.6 554.7L573.9 552L579.1 549.3L584.4 546.6L589.7 543.9L594.9 541.2L600.2 538.6L605.5 535.9L610.7 533.2L614.7 531.2M300 726.7L305.3 722.8L310.5 718.9L315.8 715.1L321.1 711.3L326.3 707.6L331.6 703.9L336.9 700.2L342.1 696.6L347.4 693.1L352.7 689.7L357.9 686.4L363.2 683L368.5 679.8L373.7 676.5L379 673.4L384.3 670.2L389.5 667.1L394.8 664L400.1 661L405.3 658L410.6 655L415.9 652L421.1 649.1L426.4 646.1L431.7 643.2L436.9 640.3L442.2 637.3L447.5 634.4L452.7 631.5L458 628.6L463.3 625.7L468.5 622.8L473.8 619.9L479.1 617L484.4 614.1L489.6 611.2L494.9 608.3L500.2 605.4L505.4 602.6L510.7 599.7L516 596.9L521.2 594L526.5 591.2L531.8 588.4L537 585.6L542.3 582.8L547.6 580.1L552.8 577.3L558.1 574.6L563.4 571.8L568.6 569.1L573.9 566.4L579.2 563.7L584.4 561L589.7 558.3L595 555.7L600.2 553L605.5 550.3L610.8 547.7L614.7 545.7M321.1 724.8L326.4 721.1L331.6 717.3L336.9 713.7L342.2 710.1L347.4 706.6L352.7 703.2L358 699.8L363.2 696.5L368.5 693.2L373.8 690L379 686.8L384.3 683.6L389.6 680.5L394.8 677.5L400.1 674.4L405.4 671.4L410.6 668.5L415.9 665.5L421.2 662.6L426.4 659.6L431.7 656.7L437 653.7L442.2 650.8L447.5 647.9L452.8 644.9L458 642L463.3 639.1L468.6 636.2L473.8 633.3L479.1 630.4L484.4 627.5L489.7 624.6L494.9 621.8L500.2 618.9L505.5 616L510.7 613.2L516 610.3L521.3 607.5L526.5 604.7L531.8 601.9L537.1 599.1L542.3 596.3L547.6 593.5L552.9 590.8L558.1 588L563.4 585.3L568.7 582.6L573.9 579.9L579.2 577.2L584.5 574.5L589.7 571.8L595 569.1L600.3 566.4L605.5 563.8L610.8 561.1L614.8 559.1M342.2 723L347.5 719.5L352.7 716.1L358 712.8L363.3 709.4L368.5 706.2L373.8 702.9L379.1 699.8L384.3 696.6L389.6 693.5L394.9 690.4L400.1 687.4L405.4 684.4L410.7 681.4L415.9 678.5L421.2 675.5L426.5 672.5L431.7 669.6L437 666.7L442.3 663.7L447.5 660.8L452.8 657.9L458.1 655L463.3 652.1L468.6 649.2L473.9 646.3L479.1 643.4L484.4 640.5L489.7 637.6L495 634.7L500.2 631.8L505.5 629L510.8 626.1L516 623.3L521.3 620.4L526.6 617.6L531.8 614.8L537.1 612L542.4 609.2L547.6 606.5L552.9 603.7L558.2 601L563.4 598.2L568.7 595.5L574 592.8L579.2 590.1L584.5 587.4L589.8 584.7L595 582.1L600.3 579.4L605.6 576.7L610.8 574.1L614.8 572.1M363.3 721.7L368.6 718.4L373.8 715.2L379.1 712L384.4 708.8L389.6 705.7L394.9 702.6L400.2 699.6L405.4 696.6L410.7 693.6L416 690.7L421.2 687.7L426.5 684.8L431.8 681.8L437 678.9L442.3 675.9L447.6 673L452.8 670.1L458.1 667.2L463.4 664.3L468.6 661.4L473.9 658.5L479.2 655.6L484.4 652.7L489.7 649.8L495 646.9L500.2 644.1L505.5 641.2L510.8 638.3L516.1 635.5L521.3 632.7L526.6 629.8L531.9 627L537.1 624.2L542.4 621.4L547.7 618.7L552.9 615.9L558.2 613.2L563.5 610.5L568.7 607.7L574 605L579.3 602.3L584.5 599.6L589.8 597L595.1 594.3L600.3 591.6L605.6 588.9L610.9 586.3L614.8 584.3M384.4 720.5L389.7 717.4L394.9 714.3L400.2 711.3L405.5 708.3L410.7 705.3L416 702.4L421.3 699.4L426.5 696.5L431.8 693.5L437.1 690.6L442.3 687.6L447.6 684.7L452.9 681.8L458.1 678.9L463.4 676L468.7 673.1L473.9 670.2L479.2 667.3L484.5 664.4L489.7 661.5L495 658.6L500.3 655.8L505.5 652.9L510.8 650L516.1 647.2L521.3 644.4L526.6 641.5L531.9 638.7L537.2 635.9L542.4 633.1L547.7 630.4L553 627.6L558.2 624.9L563.5 622.2L568.8 619.4L574 616.7L579.3 614L584.6 611.3L589.8 608.7L595.1 606L600.4 603.3L605.6 600.6L610.9 598L614.9 596M405.5 719.5L410.8 716.5L416 713.5L421.3 710.6L426.6 707.6L431.8 704.7L437.1 701.8L442.4 698.8L447.6 695.9L452.9 693L458.2 690.1L463.4 687.1L468.7 684.2L474 681.3L479.2 678.5L484.5 675.6L489.8 672.7L495 669.8L500.3 666.9L505.6 664.1L510.8 661.2L516.1 658.4L521.4 655.5L526.6 652.7L531.9 649.9L537.2 647.1L542.4 644.3L547.7 641.6L553 638.8L558.2 636.1L563.5 633.3L568.8 630.6L574.1 627.9L579.3 625.2L584.6 622.5L589.9 619.8L595.1 617.2L600.4 614.5L605.7 611.8L610.9 609.2L614.9 607.2M426.6 718.6L431.9 715.6L437.1 712.7L442.4 709.8L447.7 706.8L452.9 703.9L458.2 701L463.5 698.1L468.7 695.2L474 692.3L479.3 689.4L484.5 686.5L489.8 683.6L495.1 680.7L500.3 677.9L505.6 675L510.9 672.2L516.1 669.3L521.4 666.5L526.7 663.7L531.9 660.8L537.2 658L542.5 655.3L547.7 652.5L553 649.8L558.3 647L563.5 644.3L568.8 641.6L574.1 638.9L579.3 636.2L584.6 633.5L589.9 630.8L595.2 628.1L600.4 625.4L605.7 622.8L611 620.1L614.9 618.1M447.7 717.8L452.9 714.9L458.2 711.9L463.5 709L468.8 706.1L474 703.2L479.3 700.3L484.6 697.4L489.8 694.6L495.1 691.7L500.4 688.8L505.6 686L510.9 683.1L516.2 680.3L521.4 677.4L526.7 674.6L532 671.8L537.2 669L542.5 666.2L547.8 663.4L553 660.7L558.3 657.9L563.6 655.2L568.8 652.5L574.1 649.8L579.4 647.1L584.6 644.4L589.9 641.7L595.2 639L600.4 636.4L605.7 633.7L611 631L614.9 629M468.8 717.1L474 714.2L479.3 711.3L484.6 708.4L489.8 705.5L495.1 702.6L500.4 699.8L505.7 696.9L510.9 694L516.2 691.2L521.5 688.4L526.7 685.5L532 682.7L537.3 679.9L542.5 677.1L547.8 674.4L553.1 671.6L558.3 668.9L563.6 666.2L568.9 663.4L574.1 660.7L579.4 658L584.7 655.3L589.9 652.7L595.2 650L600.5 647.3L605.7 644.6L611 642L615 640M489.9 716.5L495.1 713.7L500.4 710.8L505.7 707.9L510.9 705.1L516.2 702.2L521.5 699.4L526.7 696.6L532 693.8L537.3 691L542.6 688.2L547.8 685.4L553.1 682.7L558.4 679.9L563.6 677.2L568.9 674.5L574.2 671.8L579.4 669.1L584.7 666.4L590 663.7L595.2 661L600.5 658.3L605.8 655.7L611 653L615 651M511 716.1L516.2 713.3L521.5 710.4L526.8 707.6L532 704.8L537.3 702L542.6 699.2L547.8 696.5L553.1 693.7L558.4 691L563.6 688.2L568.9 685.5L574.2 682.8L579.5 680.1L584.7 677.4L590 674.7L595.3 672.1L600.5 669.4L605.8 666.7L611.1 664L615 662.1M532.1 715.7L537.3 712.9L542.6 710.1L547.9 707.4L553.1 704.6L558.4 701.9L563.7 699.2L568.9 696.4L574.2 693.7L579.5 691L584.7 688.3L590 685.6L595.3 683L600.6 680.3L605.8 677.6L611.1 675L615 673M553.2 715.4L558.4 712.6L563.7 709.9L569 707.2L574.2 704.5L579.5 701.8L584.8 699.1L590 696.4L595.3 693.7L600.6 691L605.8 688.4L611.1 685.7L615.1 683.7M574.3 715.1L579.5 712.3L584.8 709.7L590.1 707L595.3 704.3L600.6 701.6L605.9 698.9L611.1 696.3L615.1 694.3M595.4 714.8L600.6 712.2L605.9 709.5L611.2 706.8L615.1 704.8" fill="none" stroke="#3a3a3a" stroke-width="0.9" stroke-dasharray="6 2.6"/>
<path d="M89 713.5L94.3 708.1L99.5 702.8L104.8 697.6L110 692.6L115.3 687.7L120.6 682.8L125.8 678.1L131.1 673.5L136.4 669.1L141.6 665.1L146.9 661.3L152.2 657.8L157.4 654.4L162.7 651.3L168 648.2L173.2 645.4L178.5 642.7L183.8 640.1L189 637.5L194.3 635L199.6 632.3L204.8 629.6L210.1 627L215.4 624.4L220.6 622L225.9 619.6L231.2 617.3L236.5 615.1L241.7 613L247 611.1L252.3 609.3L257.5 607.5L262.8 605.8L268.1 604.3L273.3 603L278.6 601.9L283.9 600.9L289.2 599.9L294.4 599.1L299.7 598.2L305 597.4L310.2 596.7L315.5 596L320.8 595.3L326.1 594.6L331.3 594L336.6 593.4L341.9 592.8L347.2 592.2L352.4 591.6L357.7 591L363 590.3L368.3 589.6L373.5 588.9L378.8 588.3L384.1 587.8L389.3 587.3L394.6 586.8L399.9 586.4L405.2 586L410.4 585.6L415.7 585.2L421 584.9L426.3 584.6L431.5 584.3L436.8 584L442.1 583.7L447.4 583.5L452.6 583.3L457.9 583L463.2 582.8L468.5 582.7L473.7 582.5L479 582.3L484.3 582.1L489.5 582L494.8 581.8L500.1 581.7L505.4 581.5L510.6 581.3L515.9 581.1L521.2 580.9L526.5 580.7L531.7 580.5L537 580.3L542.3 580.1L547.6 579.9L552.8 579.7L558.1 579.5L563.4 579.3L568.7 579.1L573.9 579L579.2 578.8L584.5 578.6L589.8 578.4L595 578.2L600.3 578.1L605.6 577.9L610.9 577.7L616.1 577.5" fill="none" stroke="#111" stroke-width="1.5"/>
<path d="M89.1 766.6L94.4 765L99.7 763.5L104.9 762L110.2 760.6L115.5 759.1L120.8 757.7L126 756.3L131.3 754.9L136.6 753.4L141.8 752L147.1 750.5L152.4 749.1L157.7 747.5L162.9 746L168.2 744.6L173.5 743.4L178.7 742.5L184 741.6L189.3 740.9L194.6 740.2L199.8 739.6L205.1 738.9L210.4 738.1L215.6 737.2L220.9 736.3L226.2 735.4L231.5 734.5L236.7 733.8L242 733.1L247.3 732.4L252.6 731.7L257.8 731.1L263.1 730.5L268.4 729.9L273.6 729.3L278.9 728.7L284.2 728.2L289.5 727.7L294.7 727.2L300 726.7L305.3 726.2L310.6 725.7L315.8 725.3L321.1 724.8L326.4 724.4L331.7 723.9L336.9 723.4L342.2 723L347.5 722.6L352.7 722.3L358 722L363.3 721.7L368.6 721.4L373.8 721.1L379.1 720.8L384.4 720.5L389.7 720.2L394.9 720L400.2 719.7L405.5 719.5L410.8 719.2L416 719L421.3 718.8L426.6 718.6L431.9 718.4L437.1 718.2L442.4 718L447.7 717.8L453 717.6L458.2 717.4L463.5 717.2L468.8 717.1L474.1 716.9L479.3 716.8L484.6 716.7L489.9 716.5L495.1 716.4L500.4 716.3L505.7 716.2L511 716.1L516.2 716L521.5 715.9L526.8 715.8L532.1 715.7L537.3 715.6L542.6 715.5L547.9 715.4L553.2 715.4L558.4 715.3L563.7 715.2L569 715.1L574.3 715.1L579.5 715L584.8 714.9L590.1 714.9L595.4 714.8L600.6 714.8L605.9 714.8L611.2 714.7L616.5 714.7" fill="none" stroke="#111" stroke-width="1.4"/>
<path d="M88.6 529.2L89.3 837" fill="none" stroke="#1a1a1a" stroke-width="1.25"/>
<path d="M89.3 837L616.8 835.2" fill="none" stroke="#777" stroke-width="1.4"/>
<path d="M88.2 830.6H90.4M88.2 824.1H90.4M88.2 817.7H90.4M88.1 811.3H90.3M87.9 804.8H91.8M88.1 798.4H90.3M88.1 792H90.3M88.1 785.5H90.3M88.1 779.1H90.3M87.8 772.7H91.7M88 766.2H90.2M88 759.8H90.2M88 753.4H90.2M88 746.9H90.2M87.8 740.5H91.7M88 734.1H90.2M87.9 727.6H90.1M87.9 721.2H90.1M87.9 714.8H90.1M87.7 708.3H91.6M87.9 701.9H90.1M87.9 695.5H90.1M87.8 689H90M87.8 682.6H90M87.6 676.2H91.5M87.8 669.7H90M87.8 663.3H90M87.8 656.9H90M87.7 650.4H89.9M87.5 644H91.4M87.7 637.6H89.9M87.7 631.1H89.9M87.7 624.7H89.9M87.7 618.3H89.9M87.5 611.8H91.4M87.6 605.4H89.8M87.6 599H89.8M87.6 592.5H89.8M87.6 586.1H89.8M87.4 579.7H91.3M87.6 573.2H89.8M87.5 566.8H89.7M87.5 560.4H89.7M87.5 553.9H89.7M87.3 547.5H91.2M87.5 541.1H89.7M87.5 534.6H89.7M115.7 835.7V837.9M142 834.2V838.1M168.4 835.5V837.7M194.8 834V837.9M221.2 835.3V837.5M247.5 833.9V837.8M273.9 835.2V837.4M300.3 833.7V837.6M326.7 835V837.2M353 833.5V837.4M379.4 834.8V837M405.8 833.3V837.2M432.1 834.6V836.8M458.5 833.1V837M484.9 834.5V836.7M511.3 833V836.9M537.6 834.3V836.5M564 832.8V836.7M590.4 834.1V836.3M616.8 832.6V836.5" fill="none" stroke="#1a1a1a" stroke-width="0.9"/>
<g font-family="'Liberation Serif', serif" font-size="8.3" fill="#1c1c1c">
<text x="87.3" y="807.4" text-anchor="end">5</text>
<text x="87.2" y="775.3" text-anchor="end">10</text>
<text x="87.2" y="743.1" text-anchor="end">15</text>
<text x="87.1" y="710.9" text-anchor="end">20</text>
<text x="87" y="678.8" text-anchor="end">25</text>
<text x="86.9" y="646.6" text-anchor="end">30</text>
<text x="86.9" y="614.4" text-anchor="end">35</text>
<text x="86.8" y="582.3" text-anchor="end">40</text>
<text x="86.7" y="550.1" text-anchor="end">45</text>
<text x="142" y="845.3" text-anchor="middle">30</text>
<text x="194.8" y="845.1" text-anchor="middle">40</text>
<text x="247.5" y="845" text-anchor="middle">50</text>
<text x="300.3" y="844.8" text-anchor="middle">60</text>
<text x="353" y="844.6" text-anchor="middle">70</text>
<text x="405.8" y="844.4" text-anchor="middle">80</text>
<text x="458.5" y="844.2" text-anchor="middle">90</text>
<text x="511.3" y="844.1" text-anchor="middle">100</text>
<text x="564" y="843.9" text-anchor="middle">110</text>
<text x="624.4" y="843.7" text-anchor="end">120</text>
<text x="91" y="537.8" font-size="7.6" textLength="79.5" lengthAdjust="spacingAndGlyphs">Сумма пл. сечений, м<tspan font-size="5.4" dy="-2.4">2</tspan><tspan dy="2.4">/га</tspan></text>
<text x="581" y="832.9" font-size="7.6" textLength="40.6" lengthAdjust="spacingAndGlyphs">Возраст, лет</text>
<text x="618" y="718" font-size="8.2">М</text>
</g>
<rect x="295.3" y="520.4" width="109" height="11.5" fill="#fff"/>
<text x="300.3" y="530.4" font-family="'Liberation Serif', serif" font-weight="bold" font-size="12.3" fill="#111" textLength="103" lengthAdjust="spacingAndGlyphs">Сосна, черничники</text>
</svg>
<div class="h" style="top:45.4px;transform:rotate(-0.25deg)">Нормативы для проведения рубок, проводимых в целях ухода<br>за лесными насаждениями, по абсолютной полноте по основной лесообразующей породе –<br>сосна и типу (группе) условий местопроизрастания – кисличники</div>
<div class="h" style="top:460px;left:34.4px;transform:rotate(-0.22deg)">Нормативы для проведения рубок, проводимых в целях ухода<br>за лесными насаждениями, по абсолютной полноте по основной лесообразующей породе –<br>сосна и типу (группе) условий местопроизрастания – черничники</div>
<div class="pn">191</div>
</body>
</html>
